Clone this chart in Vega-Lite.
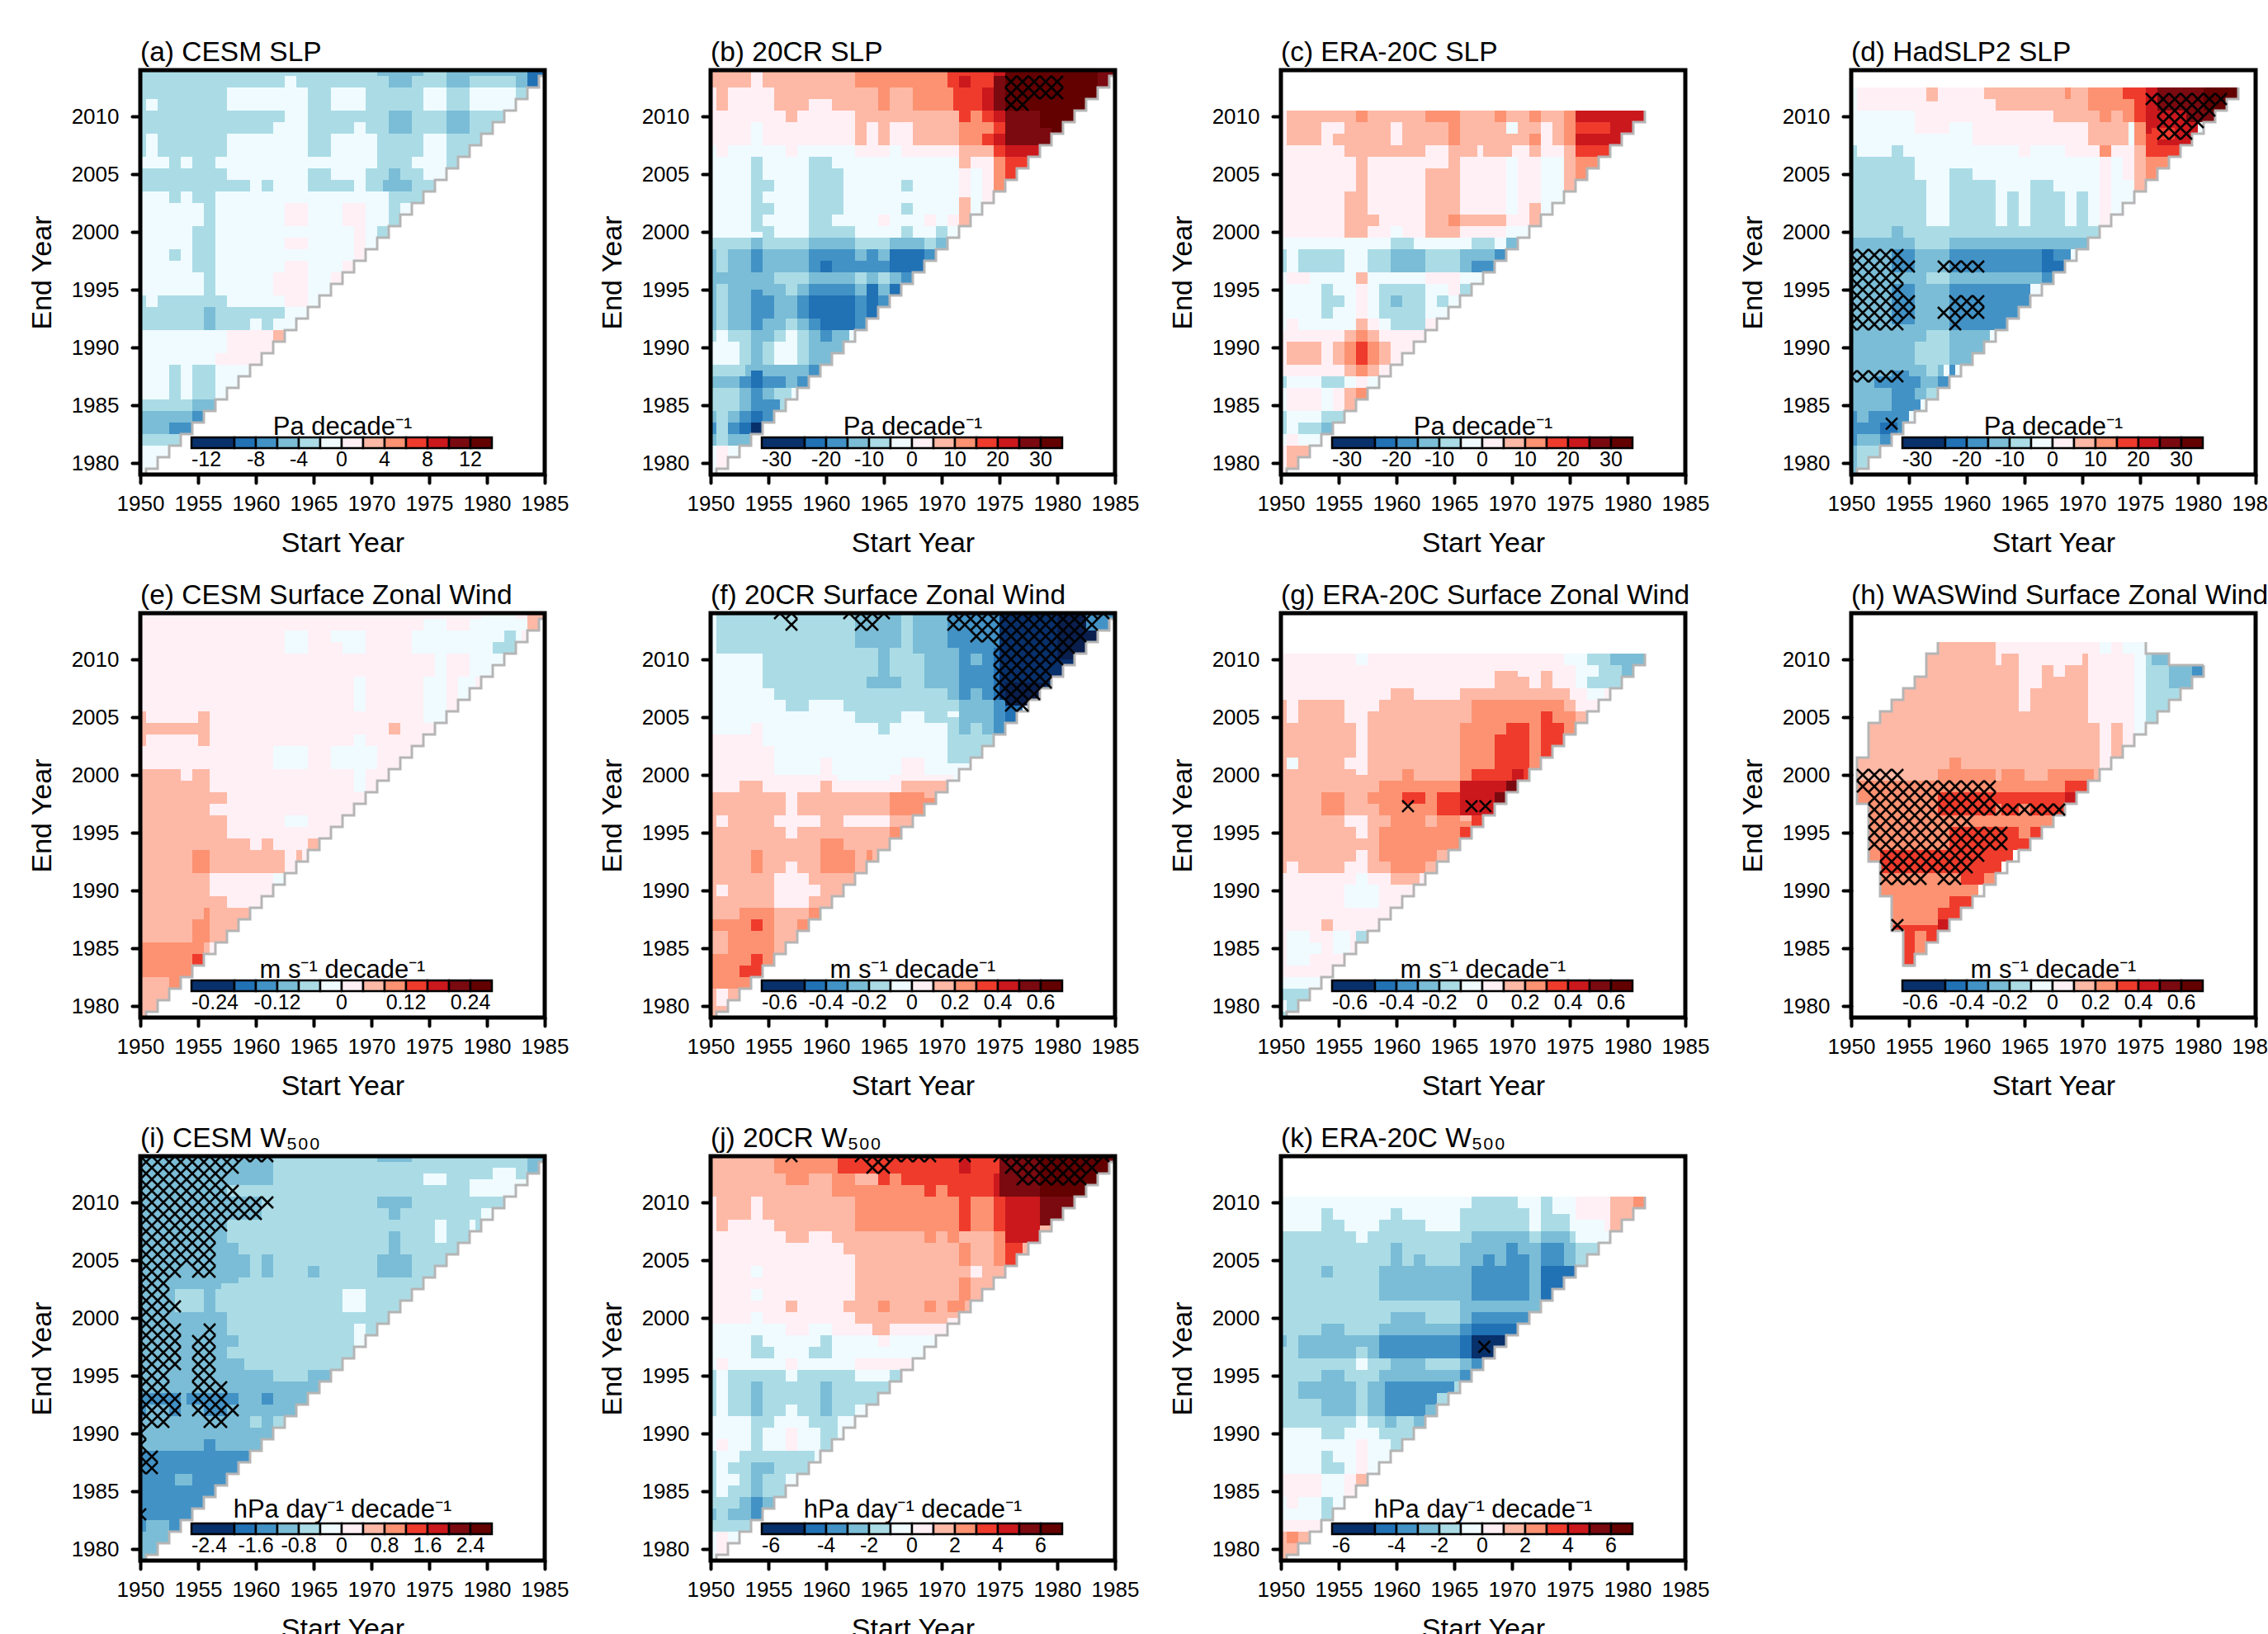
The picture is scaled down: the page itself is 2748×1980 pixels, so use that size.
{"$schema":"https://vega.github.io/schema/vega-lite/v6.json","background":"white","padding":{"left":34,"top":47,"right":0,"bottom":0},"columns":4,"spacing":{"row":168,"column":201},"bounds":"flush",
"config":{"font":"Liberation Sans","view":{"stroke":null},"axis":{"grid":false,"domain":false,"tickColor":"black","tickWidth":4,"tickSize":10,"tickCap":"round","labelFontSize":26,"labelColor":"black","titleFontSize":34,"titleFontWeight":"normal","titleColor":"black","labelOverlap":false,"labelFlush":false,"labelBound":false},"axisX":{"titlePadding":18,"labelPadding":12},"axisY":{"titlePadding":18,"labelPadding":16},"title":{"fontSize":33.5,"fontWeight":"normal","anchor":"start","frame":"group","offset":1,"color":"black"},"legend":{"orient":"none","legendX":62,"legendY":418,"direction":"horizontal","gradientLength":364,"gradientThickness":13,"gradientStrokeColor":"black","gradientStrokeWidth":2.5,"labelFontSize":25,"labelColor":"black","labelOverlap":false,"titleFontSize":31,"titleFontWeight":"normal","titleColor":"black","titleAnchor":"middle","titleOrient":"top","titlePadding":-4,"titleLimit":500,"labelOffset":4}},
"datasets":{
"stair":[{"x":1950,"y":1979},{"x":1950.5,"y":1979.5},{"x":1951.5,"y":1980.5},{"x":1952.5,"y":1981.5},{"x":1953.5,"y":1982.5},{"x":1954.5,"y":1983.5},{"x":1955.5,"y":1984.5},{"x":1956.5,"y":1985.5},{"x":1957.5,"y":1986.5},{"x":1958.5,"y":1987.5},{"x":1959.5,"y":1988.5},{"x":1960.5,"y":1989.5},{"x":1961.5,"y":1990.5},{"x":1962.5,"y":1991.5},{"x":1963.5,"y":1992.5},{"x":1964.5,"y":1993.5},{"x":1965.5,"y":1994.5},{"x":1966.5,"y":1995.5},{"x":1967.5,"y":1996.5},{"x":1968.5,"y":1997.5},{"x":1969.5,"y":1998.5},{"x":1970.5,"y":1999.5},{"x":1971.5,"y":2000.5},{"x":1972.5,"y":2001.5},{"x":1973.5,"y":2002.5},{"x":1974.5,"y":2003.5},{"x":1975.5,"y":2004.5},{"x":1976.5,"y":2005.5},{"x":1977.5,"y":2006.5},{"x":1978.5,"y":2007.5},{"x":1979.5,"y":2008.5},{"x":1980.5,"y":2009.5},{"x":1981.5,"y":2010.5},{"x":1982.5,"y":2011.5},{"x":1983.5,"y":2012.5},{"x":1984.5,"y":2013.5},{"x":1985,"y":2013.5}],
"frame":[{"x":1950,"x2":1985,"y":1979,"y2":2014}],
"outlineh":[{"i":1,"x":1957.5,"y":2011.5},{"i":2,"x":1957.5,"y":2010.5},{"i":3,"x":1956.5,"y":2010.5},{"i":4,"x":1956.5,"y":2008.5},{"i":5,"x":1955.5,"y":2008.5},{"i":6,"x":1955.5,"y":2007.5},{"i":7,"x":1954.5,"y":2007.5},{"i":8,"x":1954.5,"y":2006.5},{"i":9,"x":1953.5,"y":2006.5},{"i":10,"x":1953.5,"y":2005.5},{"i":11,"x":1952.5,"y":2005.5},{"i":12,"x":1952.5,"y":2004.5},{"i":13,"x":1951.5,"y":2004.5},{"i":14,"x":1951.5,"y":2001.5},{"i":15,"x":1950.5,"y":2001.5},{"i":16,"x":1950.5,"y":1997.5},{"i":17,"x":1951.5,"y":1997.5},{"i":18,"x":1951.5,"y":1992.5},{"i":19,"x":1952.5,"y":1992.5},{"i":20,"x":1952.5,"y":1989.5},{"i":21,"x":1953.5,"y":1989.5},{"i":22,"x":1953.5,"y":1986.5},{"i":23,"x":1954.5,"y":1986.5},{"i":24,"x":1954.5,"y":1983.5},{"i":25,"x":1955.5,"y":1983.5}],
"outlineh2":[{"i":1,"x":1980.5,"y":2009.5},{"i":2,"x":1977.5,"y":2009.5},{"i":3,"x":1977.5,"y":2010.5},{"i":4,"x":1975.5,"y":2010.5},{"i":5,"x":1975.5,"y":2011.5}],
"a":[{"x":1950,"x2":1985,"y":1979,"y2":2014,"v":-3},{"x":1950,"x2":1955.5,"y":1994.5,"y2":2003.5,"v":-1},{"x":1956.5,"x2":1971.5,"y":1994.5,"y2":2003.5,"v":-1},{"x":1952.5,"x2":1953.5,"y":2002.5,"y2":2003.5,"v":-3},{"x":1954.5,"x2":1955.5,"y":2002.5,"y2":2003.5,"v":-3},{"x":1954.5,"x2":1955.5,"y":1996.5,"y2":2000.5,"v":-3},{"x":1952.5,"x2":1953.5,"y":1997.5,"y2":1998.5,"v":-3},{"x":1957.5,"x2":1966,"y":1993.5,"y2":1994.5,"v":-1},{"x":1950.5,"x2":1951.5,"y":1993.5,"y2":1994.5,"v":-1},{"x":1972.5,"x2":1973.5,"y":2001.5,"y2":2002.5,"v":-1},{"x":1970.5,"x2":1971.5,"y":1999.5,"y2":2000.5,"v":-3},{"x":1962.5,"x2":1964.5,"y":2000.5,"y2":2002.5,"v":1},{"x":1962.5,"x2":1964.5,"y":1998.5,"y2":1999.5,"v":1},{"x":1962.5,"x2":1964.5,"y":1993.5,"y2":1997.5,"v":1},{"x":1961.5,"x2":1962.5,"y":1994.5,"y2":1996.5,"v":1},{"x":1967.5,"x2":1969.5,"y":2000.5,"y2":2002.5,"v":1},{"x":1968.5,"x2":1969.5,"y":1997.5,"y2":2000.5,"v":1},{"x":1967.5,"x2":1968.5,"y":1996.5,"y2":1997.5,"v":1},{"x":1966.5,"x2":1967.5,"y":1995.5,"y2":1996.5,"v":1},{"x":1950.5,"x2":1951.5,"y":2010.5,"y2":2011.5,"v":-1},{"x":1950.5,"x2":1951.5,"y":2006.5,"y2":2008.5,"v":-1},{"x":1950,"x2":1952.5,"y":2005.5,"y2":2006.5,"v":-1},{"x":1953.5,"x2":1954.5,"y":2005.5,"y2":2006.5,"v":-1},{"x":1956.5,"x2":1957.5,"y":2005.5,"y2":2006.5,"v":-1},{"x":1957.5,"x2":1964.5,"y":2010.5,"y2":2012.5,"v":-1},{"x":1962.5,"x2":1963.5,"y":2012.5,"y2":2013.5,"v":-1},{"x":1962.5,"x2":1964.5,"y":2009.5,"y2":2010.5,"v":-1},{"x":1961.5,"x2":1964.5,"y":2008.5,"y2":2009.5,"v":-1},{"x":1957.5,"x2":1964.5,"y":2004.5,"y2":2008.5,"v":-1},{"x":1959.5,"x2":1964.5,"y":2003.5,"y2":2004.5,"v":-1},{"x":1960.5,"x2":1961.5,"y":2003.5,"y2":2004.5,"v":-3},{"x":1964.5,"x2":1970.5,"y":2005.5,"y2":2006.5,"v":-1},{"x":1966.5,"x2":1970.5,"y":2006.5,"y2":2008.5,"v":-1},{"x":1968.5,"x2":1969.5,"y":2008.5,"y2":2009.5,"v":-1},{"x":1966.5,"x2":1968.5,"y":2004.5,"y2":2005.5,"v":-1},{"x":1968.5,"x2":1969.5,"y":2003.5,"y2":2005.5,"v":-1},{"x":1966.5,"x2":1969.5,"y":2010.5,"y2":2012.5,"v":-1},{"x":1974.5,"x2":1976.5,"y":2010.5,"y2":2012.5,"v":-1},{"x":1978.5,"x2":1982.5,"y":2010.5,"y2":2012.5,"v":-1},{"x":1974.5,"x2":1976.5,"y":2004.5,"y2":2008.5,"v":-1},{"x":1973.5,"x2":1974.5,"y":2005.5,"y2":2006.5,"v":-1},{"x":1971.5,"x2":1973.5,"y":2008.5,"y2":2010.5,"v":-5},{"x":1971,"x2":1973.5,"y":2003.5,"y2":2004.5,"v":-5},{"x":1971.5,"x2":1972.5,"y":2004.5,"y2":2005.5,"v":-5},{"x":1976.5,"x2":1978.5,"y":2008.5,"y2":2010.5,"v":-5},{"x":1976.5,"x2":1978.5,"y":2012.5,"y2":2014,"v":-5},{"x":1970.5,"x2":1974.5,"y":2013.5,"y2":2014,"v":-5},{"x":1971.5,"x2":1973.5,"y":2012.5,"y2":2013.5,"v":-5},{"x":1978.5,"x2":1983.5,"y":2013.5,"y2":2014,"v":-5},{"x":1982.5,"x2":1983.5,"y":2012.5,"y2":2013.5,"v":-5},{"x":1983.5,"x2":1985,"y":2013.5,"y2":2014,"v":-9},{"x":1983.5,"x2":1984.5,"y":2012.5,"y2":2013.5,"v":-9},{"x":1950,"x2":1963,"y":1988.5,"y2":1991.5,"v":-1},{"x":1950,"x2":1952.5,"y":1985.5,"y2":1988.5,"v":-1},{"x":1953.5,"x2":1954.5,"y":1985.5,"y2":1988.5,"v":-1},{"x":1956.5,"x2":1960,"y":1985.5,"y2":1988.5,"v":-1},{"x":1957.5,"x2":1962,"y":1989.5,"y2":1991.5,"v":1},{"x":1956.5,"x2":1961,"y":1988.5,"y2":1989.5,"v":1},{"x":1961.5,"x2":1962.5,"y":1990.5,"y2":1991.5,"v":3},{"x":1959.5,"x2":1960.5,"y":1991.5,"y2":1992.5,"v":-1},{"x":1961.5,"x2":1964,"y":1991.5,"y2":1992.5,"v":-1},{"x":1962.5,"x2":1965,"y":1992.5,"y2":1993.5,"v":-1},{"x":1955.5,"x2":1956.5,"y":1991.5,"y2":1993.5,"v":-5},{"x":1954.5,"x2":1956.5,"y":1984.5,"y2":1985.5,"v":-5},{"x":1950,"x2":1954.5,"y":1982.5,"y2":1984.5,"v":-5},{"x":1954.5,"x2":1955.5,"y":1983.5,"y2":1984.5,"v":-7},{"x":1952.5,"x2":1954.5,"y":1982.5,"y2":1983.5,"v":-7},{"x":1950,"x2":1953,"y":1979,"y2":1981.5,"v":-1}],
"b":[{"x":1950,"x2":1985,"y":1979,"y2":2014,"v":-2},{"x":1950,"x2":1985,"y":2007.5,"y2":2014,"v":2},{"x":1950.5,"x2":1951.5,"y":2006.5,"y2":2007.5,"v":2},{"x":1956.5,"x2":1957.5,"y":2006.5,"y2":2007.5,"v":2},{"x":1962.5,"x2":1965.5,"y":2006.5,"y2":2007.5,"v":2},{"x":1966.5,"x2":1971.5,"y":2006.5,"y2":2007.5,"v":2},{"x":1953.5,"x2":1954.5,"y":2007.5,"y2":2009.5,"v":-2},{"x":1950,"x2":1953.5,"y":2012.5,"y2":2014,"v":7},{"x":1950.5,"x2":1951.5,"y":2010.5,"y2":2012.5,"v":7},{"x":1954.5,"x2":1963,"y":2012.5,"y2":2014,"v":7},{"x":1955.5,"x2":1971.5,"y":2010.5,"y2":2012.5,"v":7},{"x":1958.5,"x2":1960.5,"y":2010.5,"y2":2011.5,"v":2},{"x":1956.5,"x2":1957.5,"y":2009.5,"y2":2010.5,"v":7},{"x":1962.5,"x2":1971.5,"y":2007.5,"y2":2010.5,"v":7},{"x":1963.5,"x2":1964.5,"y":2007.5,"y2":2009.5,"v":2},{"x":1965.5,"x2":1967.5,"y":2007.5,"y2":2009.5,"v":2},{"x":1962.5,"x2":1970.5,"y":2012.5,"y2":2014,"v":12},{"x":1964.5,"x2":1965.5,"y":2010.5,"y2":2012.5,"v":12},{"x":1967.5,"x2":1971,"y":2010.5,"y2":2012.5,"v":12},{"x":1971.5,"x2":1974.5,"y":2007.5,"y2":2009.5,"v":12},{"x":1971.5,"x2":1974.5,"y":2005.5,"y2":2007.5,"v":7},{"x":1972.5,"x2":1974.5,"y":2005.5,"y2":2006.5,"v":2},{"x":1971.5,"x2":1972.5,"y":2003,"y2":2005.5,"v":2},{"x":1973.5,"x2":1974.5,"y":2002.5,"y2":2005.5,"v":2},{"x":1971.5,"x2":1972.5,"y":2000.5,"y2":2003,"v":7},{"x":1970.5,"x2":1971.5,"y":2000.5,"y2":2001.5,"v":2},{"x":1964.5,"x2":1965.5,"y":2000.5,"y2":2001.5,"v":2},{"x":1968.5,"x2":1969.5,"y":2000.5,"y2":2001.5,"v":2},{"x":1974.5,"x2":1975.5,"y":2003.5,"y2":2006.5,"v":12},{"x":1974.5,"x2":1975.5,"y":2006.5,"y2":2007.5,"v":17},{"x":1975.5,"x2":1978,"y":2004.5,"y2":2006.5,"v":17},{"x":1975.5,"x2":1978.5,"y":2006.5,"y2":2007.5,"v":22},{"x":1970.5,"x2":1974.5,"y":2012.5,"y2":2014,"v":17},{"x":1971,"x2":1974.5,"y":2010.5,"y2":2012.5,"v":17},{"x":1971.5,"x2":1972.5,"y":2009.5,"y2":2010.5,"v":17},{"x":1972.5,"x2":1973.5,"y":2009.5,"y2":2010.5,"v":12},{"x":1973.5,"x2":1974.5,"y":2009.5,"y2":2010.5,"v":17},{"x":1971.5,"x2":1972.5,"y":2012.5,"y2":2013.5,"v":22},{"x":1973.5,"x2":1974.5,"y":2010.5,"y2":2012.5,"v":22},{"x":1974.5,"x2":1975.5,"y":2013.5,"y2":2014,"v":22},{"x":1974.5,"x2":1975.5,"y":2010.5,"y2":2013.5,"v":27},{"x":1974.5,"x2":1975.5,"y":2009.5,"y2":2010.5,"v":22},{"x":1974.5,"x2":1975.5,"y":2008.5,"y2":2009.5,"v":17},{"x":1974.5,"x2":1975.5,"y":2007.5,"y2":2008.5,"v":22},{"x":1973.5,"x2":1974.5,"y":2007.5,"y2":2008.5,"v":17},{"x":1975.5,"x2":1985,"y":2007.5,"y2":2014,"v":32},{"x":1975.5,"x2":1978.5,"y":2007.5,"y2":2010.5,"v":27},{"x":1983.5,"x2":1985,"y":2013.5,"y2":2014,"v":27},{"x":1983.5,"x2":1984.5,"y":2012.5,"y2":2013.5,"v":27},{"x":1978.5,"x2":1979.5,"y":2007.5,"y2":2009,"v":27},{"x":1953.5,"x2":1954.5,"y":2000,"y2":2006.5,"v":-7},{"x":1954.5,"x2":1955.5,"y":2003.5,"y2":2004.5,"v":-7},{"x":1954.5,"x2":1955.5,"y":2001.5,"y2":2002.5,"v":-7},{"x":1954.5,"x2":1955.5,"y":1999.5,"y2":2000.5,"v":-7},{"x":1958.5,"x2":1960.5,"y":1999.5,"y2":2006.5,"v":-7},{"x":1960.5,"x2":1961.5,"y":2001.5,"y2":2005.5,"v":-7},{"x":1960.5,"x2":1962.5,"y":1999.5,"y2":2000.5,"v":-7},{"x":1966.5,"x2":1967.5,"y":2003.5,"y2":2004.5,"v":-7},{"x":1966.5,"x2":1967.5,"y":2001.5,"y2":2002.5,"v":-7},{"x":1966.5,"x2":1967.5,"y":1999.5,"y2":2000.5,"v":-7},{"x":1969.5,"x2":1970.5,"y":1999.5,"y2":2000.5,"v":-7},{"x":1950,"x2":1970.5,"y":1998.5,"y2":1999.5,"v":-7},{"x":1953.5,"x2":1954.5,"y":1998.5,"y2":1999.5,"v":-12},{"x":1958.5,"x2":1962.5,"y":1998.5,"y2":1999.5,"v":-12},{"x":1965.5,"x2":1968.5,"y":1998.5,"y2":1999.5,"v":-12},{"x":1969.5,"x2":1970.5,"y":1997.5,"y2":1999.5,"v":-12},{"x":1950,"x2":1951.5,"y":1996.5,"y2":1998.5,"v":-7},{"x":1950,"x2":1950.5,"y":1996.5,"y2":1998.5,"v":-12},{"x":1951.5,"x2":1958.5,"y":1996.5,"y2":1998.5,"v":-12},{"x":1953.5,"x2":1954.5,"y":1996.5,"y2":1998.5,"v":-17},{"x":1958.5,"x2":1966,"y":1996.5,"y2":1998.5,"v":-17},{"x":1959.5,"x2":1960.5,"y":1996.5,"y2":1997.5,"v":-22},{"x":1962.5,"x2":1963.5,"y":1997.5,"y2":1998.5,"v":-12},{"x":1964.5,"x2":1965.5,"y":1997.5,"y2":1998.5,"v":-12},{"x":1965.5,"x2":1968.5,"y":1996.5,"y2":1998.5,"v":-22},{"x":1968.5,"x2":1969.5,"y":1997.5,"y2":1998.5,"v":-17},{"x":1950,"x2":1968,"y":1995.5,"y2":1996.5,"v":-12},{"x":1955.5,"x2":1958.5,"y":1995.5,"y2":1996.5,"v":-7},{"x":1962.5,"x2":1963.5,"y":1994.5,"y2":1996.5,"v":-7},{"x":1964.5,"x2":1965.5,"y":1994.5,"y2":1996.5,"v":-7},{"x":1966.5,"x2":1968,"y":1995,"y2":1996.5,"v":-17},{"x":1950,"x2":1966,"y":1991.5,"y2":1995.5,"v":-12},{"x":1950.5,"x2":1951.5,"y":1991.5,"y2":1995.5,"v":-7},{"x":1953.5,"x2":1954.5,"y":1991.5,"y2":1995,"v":-17},{"x":1954.5,"x2":1955.5,"y":1992.5,"y2":1994.5,"v":-17},{"x":1956.5,"x2":1957.5,"y":1994.5,"y2":1995.5,"v":-7},{"x":1956.5,"x2":1957.5,"y":1991.5,"y2":1992.5,"v":-7},{"x":1957.5,"x2":1958.5,"y":1992.5,"y2":1994.5,"v":-17},{"x":1958.5,"x2":1962.5,"y":1994.5,"y2":1995.5,"v":-17},{"x":1958.5,"x2":1962.5,"y":1992.5,"y2":1994.5,"v":-22},{"x":1959.5,"x2":1962.5,"y":1991.5,"y2":1992.5,"v":-22},{"x":1958.5,"x2":1959.5,"y":1991.5,"y2":1992.5,"v":-17},{"x":1962.5,"x2":1963.5,"y":1991.5,"y2":1994.5,"v":-17},{"x":1963.5,"x2":1964.5,"y":1992.5,"y2":1995.5,"v":-22},{"x":1964.5,"x2":1965.5,"y":1993.5,"y2":1994.5,"v":-17},{"x":1965.5,"x2":1966.5,"y":1994.5,"y2":1995.5,"v":-22},{"x":1950,"x2":1962,"y":1988.5,"y2":1991.5,"v":-7},{"x":1950.5,"x2":1951.5,"y":1990.5,"y2":1991.5,"v":-2},{"x":1950,"x2":1952.5,"y":1988.5,"y2":1990.5,"v":-2},{"x":1953.5,"x2":1954.5,"y":1988.5,"y2":1991.5,"v":-12},{"x":1954.5,"x2":1955.5,"y":1990.5,"y2":1991.5,"v":-12},{"x":1956.5,"x2":1957.5,"y":1990.5,"y2":1991.5,"v":-2},{"x":1955.5,"x2":1957.5,"y":1988.5,"y2":1990.5,"v":-2},{"x":1958.5,"x2":1962,"y":1988.5,"y2":1991.5,"v":-12},{"x":1959.5,"x2":1960.5,"y":1990.5,"y2":1991.5,"v":-17},{"x":1950,"x2":1959,"y":1986.5,"y2":1988.5,"v":-12},{"x":1950,"x2":1953,"y":1987.5,"y2":1988.5,"v":-7},{"x":1952.5,"x2":1956.5,"y":1986.5,"y2":1987.5,"v":-17},{"x":1953.5,"x2":1954.5,"y":1986.5,"y2":1988,"v":-22},{"x":1958.5,"x2":1959.5,"y":1987.5,"y2":1988.5,"v":-17},{"x":1957.5,"x2":1958.5,"y":1986.5,"y2":1987.5,"v":-17},{"x":1950,"x2":1957,"y":1984.5,"y2":1986.5,"v":-7},{"x":1952.5,"x2":1953.5,"y":1984.5,"y2":1986.5,"v":-12},{"x":1953.5,"x2":1954.5,"y":1984.5,"y2":1986.5,"v":-17},{"x":1954.5,"x2":1955.5,"y":1985.5,"y2":1986.5,"v":-12},{"x":1954.5,"x2":1956,"y":1984.5,"y2":1985.5,"v":-17},{"x":1950,"x2":1955,"y":1982.5,"y2":1984.5,"v":-12},{"x":1950.5,"x2":1951.5,"y":1982.5,"y2":1984.5,"v":-7},{"x":1952.5,"x2":1953.5,"y":1983.5,"y2":1984.5,"v":-17},{"x":1954.5,"x2":1955.5,"y":1983.5,"y2":1984.5,"v":-17},{"x":1953.5,"x2":1954.5,"y":1983.5,"y2":1984.5,"v":-22},{"x":1953.5,"x2":1954.5,"y":1982.5,"y2":1983.5,"v":-27},{"x":1950,"x2":1950.5,"y":1982.5,"y2":1983.5,"v":-17},{"x":1951.5,"x2":1952.5,"y":1982.5,"y2":1983.5,"v":-17},{"x":1952.5,"x2":1953.5,"y":1982.5,"y2":1983.5,"v":-22},{"x":1950,"x2":1953.5,"y":1981.5,"y2":1982.5,"v":-12},{"x":1950.5,"x2":1951.5,"y":1981.5,"y2":1982.5,"v":-7},{"x":1950.5,"x2":1951.5,"y":1979,"y2":1981.5,"v":2}],
"c":[{"x":1950,"x2":1981.5,"y":1979,"y2":2010.5,"v":-2},{"x":1950,"x2":1981.5,"y":1999.5,"y2":2010.5,"v":2},{"x":1950.5,"x2":1981.5,"y":2007.5,"y2":2010.5,"v":7},{"x":1953.5,"x2":1954.5,"y":2007.5,"y2":2009.5,"v":2},{"x":1954.5,"x2":1955.5,"y":2008.5,"y2":2009.5,"v":2},{"x":1959.5,"x2":1960.5,"y":2007.5,"y2":2009.5,"v":2},{"x":1972.5,"x2":1973.5,"y":2007.5,"y2":2009.5,"v":2},{"x":1969.5,"x2":1970.5,"y":2008.5,"y2":2009.5,"v":-2},{"x":1955.5,"x2":1958.5,"y":2006.5,"y2":2007.5,"v":7},{"x":1958.5,"x2":1962.5,"y":2006.5,"y2":2007.5,"v":7},{"x":1964.5,"x2":1967,"y":2006.5,"y2":2007.5,"v":7},{"x":1967.5,"x2":1970,"y":2006.5,"y2":2007.5,"v":7},{"x":1971.5,"x2":1972.5,"y":2006.5,"y2":2007.5,"v":7},{"x":1956.5,"x2":1957.5,"y":2009.5,"y2":2010.5,"v":12},{"x":1962.5,"x2":1965.5,"y":2009.5,"y2":2010.5,"v":12},{"x":1964.5,"x2":1965.5,"y":2007.5,"y2":2009.5,"v":12},{"x":1968.5,"x2":1969.5,"y":2009.5,"y2":2010.5,"v":12},{"x":1971.5,"x2":1972.5,"y":2009.5,"y2":2010.5,"v":12},{"x":1971.5,"x2":1972.5,"y":2007.5,"y2":2008.5,"v":12},{"x":1974.5,"x2":1975.5,"y":2007.5,"y2":2010.5,"v":12},{"x":1956.5,"x2":1957.5,"y":2003.5,"y2":2006.5,"v":7},{"x":1955.5,"x2":1957.5,"y":1999.5,"y2":2003.5,"v":7},{"x":1957.5,"x2":1958.5,"y":2000.5,"y2":2001.5,"v":7},{"x":1962.5,"x2":1965.5,"y":1999.5,"y2":2005.5,"v":7},{"x":1964.5,"x2":1965.5,"y":2005.5,"y2":2006.5,"v":7},{"x":1964.5,"x2":1965.5,"y":2000.5,"y2":2001.5,"v":12},{"x":1965.5,"x2":1969.5,"y":2000.5,"y2":2001.5,"v":7},{"x":1971.5,"x2":1972.5,"y":2000.5,"y2":2002.5,"v":7},{"x":1969.5,"x2":1970.5,"y":2001.5,"y2":2006.5,"v":-2},{"x":1972.5,"x2":1974.5,"y":2001,"y2":2006.5,"v":-2},{"x":1974.5,"x2":1975.5,"y":2003.5,"y2":2007.5,"v":7},{"x":1975.5,"x2":1978,"y":2004.5,"y2":2006.5,"v":12},{"x":1975.5,"x2":1979,"y":2006.5,"y2":2007.5,"v":17},{"x":1975.5,"x2":1981.5,"y":2007.5,"y2":2010.5,"v":22},{"x":1975.5,"x2":1978.5,"y":2008.5,"y2":2009.5,"v":17},{"x":1959.5,"x2":1960.5,"y":1999.5,"y2":2000.5,"v":-2},{"x":1969.5,"x2":1972,"y":1999.5,"y2":2000.5,"v":-2},{"x":1950,"x2":1972,"y":1998.5,"y2":1999.5,"v":-2},{"x":1959.5,"x2":1961.5,"y":1998.5,"y2":1999.5,"v":-7},{"x":1966.5,"x2":1968.5,"y":1998.5,"y2":1999.5,"v":-7},{"x":1969.5,"x2":1970.5,"y":1998.5,"y2":1999.5,"v":-12},{"x":1950,"x2":1969,"y":1996.5,"y2":1998.5,"v":-7},{"x":1950.5,"x2":1951.5,"y":1996.5,"y2":1998.5,"v":-2},{"x":1955.5,"x2":1957.5,"y":1996.5,"y2":1998.5,"v":-2},{"x":1959.5,"x2":1962.5,"y":1996.5,"y2":1998.5,"v":-12},{"x":1965.5,"x2":1968.5,"y":1996.5,"y2":1998.5,"v":-12},{"x":1968.5,"x2":1969.5,"y":1997.5,"y2":1998.5,"v":-17},{"x":1966.5,"x2":1968.5,"y":1996.5,"y2":1997.5,"v":-17},{"x":1950,"x2":1969,"y":1991.5,"y2":1996.5,"v":-2},{"x":1950.5,"x2":1952.5,"y":1995.5,"y2":1996.5,"v":2},{"x":1956.5,"x2":1957.5,"y":1995.5,"y2":1996.5,"v":7},{"x":1956.5,"x2":1957.5,"y":1992.5,"y2":1995.5,"v":2},{"x":1962.5,"x2":1965.5,"y":1995.5,"y2":1996.5,"v":2},{"x":1964.5,"x2":1965.5,"y":1994.5,"y2":1995.5,"v":2},{"x":1953.5,"x2":1954.5,"y":1992.5,"y2":1995.5,"v":-7},{"x":1954.5,"x2":1955.5,"y":1993.5,"y2":1994.5,"v":-7},{"x":1958.5,"x2":1962.5,"y":1992.5,"y2":1995.5,"v":-7},{"x":1959.5,"x2":1962.5,"y":1991.5,"y2":1992.5,"v":-7},{"x":1959.5,"x2":1960.5,"y":1993.5,"y2":1994.5,"v":-12},{"x":1963.5,"x2":1964.5,"y":1993.5,"y2":1994.5,"v":-7},{"x":1965.5,"x2":1966.5,"y":1994.5,"y2":1995.5,"v":-7},{"x":1962.5,"x2":1963.5,"y":1991.5,"y2":1992.5,"v":2},{"x":1950.5,"x2":1951.5,"y":1991.5,"y2":1992.5,"v":2},{"x":1956.5,"x2":1957.5,"y":1991.5,"y2":1992.5,"v":7},{"x":1957.5,"x2":1958.5,"y":1991.5,"y2":1992.5,"v":2},{"x":1950,"x2":1963,"y":1987.5,"y2":1991.5,"v":2},{"x":1950.5,"x2":1953.5,"y":1988.5,"y2":1990.5,"v":7},{"x":1954.5,"x2":1955.5,"y":1988.5,"y2":1990.5,"v":7},{"x":1955.5,"x2":1958.5,"y":1987.5,"y2":1991.5,"v":7},{"x":1958.5,"x2":1959.5,"y":1988.5,"y2":1990.5,"v":7},{"x":1955.5,"x2":1956.5,"y":1988.5,"y2":1990.5,"v":12},{"x":1956.5,"x2":1957.5,"y":1990.5,"y2":1991.5,"v":12},{"x":1956.5,"x2":1957.5,"y":1988.5,"y2":1990.5,"v":17},{"x":1957.5,"x2":1958.5,"y":1988.5,"y2":1990.5,"v":12},{"x":1956.5,"x2":1957.5,"y":1987.5,"y2":1988.5,"v":12},{"x":1950,"x2":1959,"y":1986.5,"y2":1987.5,"v":-2},{"x":1953.5,"x2":1955.5,"y":1986.5,"y2":1987.5,"v":-7},{"x":1950,"x2":1950.5,"y":1986.5,"y2":1987.5,"v":-7},{"x":1956.5,"x2":1957.5,"y":1986.5,"y2":1987.5,"v":2},{"x":1950,"x2":1957,"y":1984.5,"y2":1986.5,"v":2},{"x":1953.5,"x2":1954.5,"y":1984.5,"y2":1986.5,"v":-2},{"x":1950,"x2":1950.5,"y":1984.5,"y2":1986.5,"v":-2},{"x":1955.5,"x2":1956.5,"y":1984.5,"y2":1986.5,"v":7},{"x":1956.5,"x2":1957.5,"y":1985.5,"y2":1986.5,"v":12},{"x":1953.5,"x2":1955.5,"y":1983.5,"y2":1984.5,"v":-7},{"x":1951.5,"x2":1953.5,"y":1982.5,"y2":1983.5,"v":-7},{"x":1953.5,"x2":1954.5,"y":1982.5,"y2":1983.5,"v":-12},{"x":1950,"x2":1950.5,"y":1982.5,"y2":1984.5,"v":-7},{"x":1950.5,"x2":1951.5,"y":1981.5,"y2":1982.5,"v":2},{"x":1950.5,"x2":1953,"y":1979,"y2":1981.5,"v":7},{"x":1950,"x2":1950.5,"y":1979,"y2":1981.5,"v":2}],
"d":[{"x":1950,"x2":1983.5,"y":1979,"y2":2012.5,"v":-2},{"x":1950.5,"x2":1971.5,"y":2010.5,"y2":2012.5,"v":2},{"x":1955.5,"x2":1971.5,"y":2008.5,"y2":2010.5,"v":2},{"x":1958.5,"x2":1960.5,"y":2008.5,"y2":2009.5,"v":-2},{"x":1960.5,"x2":1971.5,"y":2007.5,"y2":2008.5,"v":2},{"x":1964.5,"x2":1965.5,"y":2006.5,"y2":2007.5,"v":2},{"x":1968.5,"x2":1971.5,"y":2006.5,"y2":2007.5,"v":2},{"x":1961.5,"x2":1970.5,"y":2011.5,"y2":2012.5,"v":7},{"x":1962.5,"x2":1970.5,"y":2010.5,"y2":2011.5,"v":7},{"x":1967.5,"x2":1970.5,"y":2009.5,"y2":2010.5,"v":7},{"x":1970.5,"x2":1974,"y":2007.5,"y2":2009.5,"v":7},{"x":1956.5,"x2":1957.5,"y":2011.3,"y2":2012.5,"v":7},{"x":1968.5,"x2":1969,"y":2011.5,"y2":2012.5,"v":12},{"x":1970.5,"x2":1973.5,"y":2010.5,"y2":2012.5,"v":12},{"x":1971.5,"x2":1972.5,"y":2009.5,"y2":2010.5,"v":12},{"x":1972.5,"x2":1973.5,"y":2009.5,"y2":2010.5,"v":7},{"x":1970.5,"x2":1971.5,"y":2009.5,"y2":2010.5,"v":7},{"x":1973.5,"x2":1974.5,"y":2009.5,"y2":2011.5,"v":12},{"x":1971.5,"x2":1972.5,"y":2006.5,"y2":2007.5,"v":12},{"x":1974.5,"x2":1975.5,"y":2007.5,"y2":2009.5,"v":12},{"x":1974.5,"x2":1975.5,"y":2003.5,"y2":2007.5,"v":7},{"x":1975.5,"x2":1978,"y":2005.5,"y2":2006.5,"v":12},{"x":1975.5,"x2":1977,"y":2004.5,"y2":2005.5,"v":12},{"x":1973.5,"x2":1975.5,"y":2011.5,"y2":2012.5,"v":17},{"x":1974.5,"x2":1975.5,"y":2009.5,"y2":2011.5,"v":17},{"x":1975.5,"x2":1979,"y":2006.5,"y2":2008.5,"v":17},{"x":1975.5,"x2":1976.5,"y":2008.5,"y2":2012.5,"v":22},{"x":1976.5,"x2":1980,"y":2007.5,"y2":2010.5,"v":22},{"x":1976,"x2":1978,"y":2008,"y2":2009,"v":17},{"x":1976.5,"x2":1980.5,"y":2010.5,"y2":2012.5,"v":27},{"x":1979,"x2":1982,"y":2009.5,"y2":2010.5,"v":27},{"x":1980.5,"x2":1983.5,"y":2010.5,"y2":2012.5,"v":32},{"x":1971.5,"x2":1972.5,"y":2000.5,"y2":2006.5,"v":2},{"x":1973.5,"x2":1974.5,"y":2004.5,"y2":2007.5,"v":2},{"x":1972.5,"x2":1973.5,"y":2006.5,"y2":2007.5,"v":2},{"x":1950,"x2":1955.5,"y":1999,"y2":2006.5,"v":-7},{"x":1950,"x2":1950.5,"y":2006.5,"y2":2007.5,"v":-7},{"x":1953.5,"x2":1954.5,"y":2006.5,"y2":2007.5,"v":-7},{"x":1955.5,"x2":1956.5,"y":1999,"y2":2004.5,"v":-7},{"x":1958.5,"x2":1960.5,"y":2000.5,"y2":2005.5,"v":-7},{"x":1960.5,"x2":1962.5,"y":2000.5,"y2":2004.5,"v":-7},{"x":1963.5,"x2":1964.5,"y":2000.5,"y2":2003.5,"v":-7},{"x":1965.5,"x2":1967.5,"y":2000.5,"y2":2004.5,"v":-7},{"x":1967.5,"x2":1968.5,"y":2000.5,"y2":2003.5,"v":-7},{"x":1969.5,"x2":1970.5,"y":2000.5,"y2":2003.5,"v":-7},{"x":1950,"x2":1971.5,"y":1999.5,"y2":2000.5,"v":-7},{"x":1953.5,"x2":1954.5,"y":1999.5,"y2":2000.5,"v":-12},{"x":1950,"x2":1970.5,"y":1998.5,"y2":1999.5,"v":-12},{"x":1955.5,"x2":1958.5,"y":1998.5,"y2":1999.5,"v":-7},{"x":1950,"x2":1968,"y":1995.5,"y2":1998.5,"v":-12},{"x":1958.5,"x2":1966.5,"y":1995.5,"y2":1998.5,"v":-17},{"x":1966.5,"x2":1969,"y":1997.5,"y2":1998.5,"v":-17},{"x":1966.5,"x2":1967.5,"y":1996.5,"y2":1998.5,"v":-22},{"x":1967.5,"x2":1968.5,"y":1996.5,"y2":1997.5,"v":-22},{"x":1966.5,"x2":1967.5,"y":1995.5,"y2":1996.5,"v":-17},{"x":1956.5,"x2":1958.5,"y":1995.5,"y2":1996.5,"v":-7},{"x":1958.5,"x2":1966.5,"y":1995.5,"y2":1996.5,"v":-12},{"x":1953.5,"x2":1955.5,"y":1996.5,"y2":1998.5,"v":-17},{"x":1950,"x2":1958.5,"y":1991.5,"y2":1995.5,"v":-12},{"x":1958.5,"x2":1965.5,"y":1991.5,"y2":1995.5,"v":-17},{"x":1953.5,"x2":1955.5,"y":1992,"y2":1995.5,"v":-17},{"x":1950,"x2":1962,"y":1988.5,"y2":1991.5,"v":-12},{"x":1956.5,"x2":1958.5,"y":1990.5,"y2":1991.5,"v":-7},{"x":1955.5,"x2":1958.5,"y":1988.5,"y2":1990.5,"v":-7},{"x":1950,"x2":1958,"y":1986.5,"y2":1988.5,"v":-12},{"x":1956.5,"x2":1957.5,"y":1987.5,"y2":1988.5,"v":-7},{"x":1958.5,"x2":1959,"y":1987.5,"y2":1988.5,"v":-17},{"x":1952,"x2":1956,"y":1986.5,"y2":1987.5,"v":-17},{"x":1953.5,"x2":1955,"y":1987.5,"y2":1988,"v":-17},{"x":1957.5,"x2":1958.5,"y":1986.5,"y2":1987.5,"v":-17},{"x":1950,"x2":1953.5,"y":1984.5,"y2":1986.5,"v":-12},{"x":1953.5,"x2":1956,"y":1984.5,"y2":1986.5,"v":-17},{"x":1955.5,"x2":1956.5,"y":1985.5,"y2":1986.5,"v":-12},{"x":1956.5,"x2":1957.5,"y":1985.5,"y2":1986.5,"v":-7},{"x":1950,"x2":1955,"y":1982.5,"y2":1984.5,"v":-17},{"x":1950.5,"x2":1951.5,"y":1983.5,"y2":1984.5,"v":-12},{"x":1952.5,"x2":1954,"y":1982.5,"y2":1983.5,"v":-22},{"x":1950.5,"x2":1953,"y":1981.5,"y2":1982.5,"v":-12},{"x":1950,"x2":1950.5,"y":1981.5,"y2":1982.5,"v":-17},{"x":1952.5,"x2":1953.5,"y":1981.5,"y2":1982.5,"v":-17},{"x":1950.5,"x2":1953,"y":1979,"y2":1981.5,"v":-7},{"x":1950,"x2":1950.5,"y":1979,"y2":1981.5,"v":-12}],
"e":[{"x":1950,"x2":1985,"y":1979,"y2":2014,"v":0.02},{"x":1962.5,"x2":1964.5,"y":2010.5,"y2":2012.5,"v":-0.02},{"x":1966.5,"x2":1969.5,"y":2011.5,"y2":2012.5,"v":-0.02},{"x":1967.5,"x2":1969.5,"y":2010.5,"y2":2011.5,"v":-0.02},{"x":1973.5,"x2":1976.5,"y":2010.5,"y2":2012.5,"v":-0.02},{"x":1974.5,"x2":1976.5,"y":2012.5,"y2":2013.5,"v":-0.02},{"x":1975.5,"x2":1976.5,"y":2008.5,"y2":2010.5,"v":-0.02},{"x":1974.5,"x2":1976.5,"y":2004.5,"y2":2008.5,"v":-0.02},{"x":1976.5,"x2":1983,"y":2010.5,"y2":2012.5,"v":-0.02},{"x":1978.5,"x2":1984,"y":2012.5,"y2":2013.5,"v":-0.02},{"x":1979.5,"x2":1982.5,"y":2013.5,"y2":2014,"v":-0.02},{"x":1978.5,"x2":1982,"y":2008.5,"y2":2010.5,"v":-0.02},{"x":1977.5,"x2":1979,"y":2006.5,"y2":2008.5,"v":-0.02},{"x":1968.5,"x2":1969.5,"y":2005.5,"y2":2008.5,"v":-0.02},{"x":1981.5,"x2":1982.5,"y":2010.5,"y2":2012.5,"v":-0.06},{"x":1980.5,"x2":1981.5,"y":2010.5,"y2":2011.5,"v":-0.06},{"x":1950,"x2":1950.5,"y":2002.5,"y2":2005.5,"v":0.06},{"x":1955,"x2":1956,"y":2002.5,"y2":2005.5,"v":0.06},{"x":1950,"x2":1955.5,"y":2003.5,"y2":2004.5,"v":0.06},{"x":1971.5,"x2":1972.5,"y":2003.5,"y2":2004.5,"v":0.06},{"x":1961.5,"x2":1964.5,"y":2000.5,"y2":2002.5,"v":-0.02},{"x":1966.5,"x2":1970.5,"y":2000.5,"y2":2002.5,"v":-0.02},{"x":1968.5,"x2":1969.5,"y":1998.5,"y2":2003.5,"v":-0.02},{"x":1962.5,"x2":1964.5,"y":1995.5,"y2":1996.5,"v":-0.02},{"x":1950,"x2":1956,"y":1979,"y2":2000.5,"v":0.06},{"x":1953.5,"x2":1954.5,"y":1999.5,"y2":2000.5,"v":0.02},{"x":1956,"x2":1957.5,"y":1997.5,"y2":1998.5,"v":0.06},{"x":1956,"x2":1957.5,"y":1994.5,"y2":1996.5,"v":0.06},{"x":1956,"x2":1959.5,"y":1993.5,"y2":1994.5,"v":0.06},{"x":1960.5,"x2":1961.5,"y":1993.5,"y2":1994.5,"v":0.06},{"x":1956,"x2":1962.5,"y":1991.5,"y2":1993.5,"v":0.06},{"x":1963.5,"x2":1964,"y":1992.5,"y2":1993.5,"v":0.06},{"x":1964.5,"x2":1965.5,"y":1993.5,"y2":1994.5,"v":0.06},{"x":1961.5,"x2":1962.5,"y":1990.5,"y2":1991.5,"v":-0.02},{"x":1956,"x2":1957.5,"y":1988.5,"y2":1989.5,"v":0.06},{"x":1956,"x2":1959.5,"y":1987.5,"y2":1988.5,"v":0.06},{"x":1956,"x2":1958.5,"y":1986.5,"y2":1987.5,"v":0.06},{"x":1956,"x2":1957.5,"y":1985.5,"y2":1986.5,"v":0.06},{"x":1954.5,"x2":1956,"y":1991.5,"y2":1993.5,"v":0.1},{"x":1954.5,"x2":1956,"y":1985.5,"y2":1987.5,"v":0.1},{"x":1955.5,"x2":1956,"y":1987.5,"y2":1988.5,"v":0.1},{"x":1950,"x2":1954.5,"y":1982.5,"y2":1985.5,"v":0.1},{"x":1954.5,"x2":1955.5,"y":1984.5,"y2":1985.5,"v":0.1},{"x":1954.5,"x2":1955.5,"y":1983.5,"y2":1984.5,"v":0.14},{"x":1952.5,"x2":1953.5,"y":1981.5,"y2":1982.5,"v":0.1},{"x":1983.5,"x2":1985,"y":2012.5,"y2":2014,"v":0.06}],
"f":[{"x":1950,"x2":1985,"y":1979,"y2":2014,"v":-0.05},{"x":1950,"x2":1971,"y":1979,"y2":1998.5,"v":0.15},{"x":1950,"x2":1953.5,"y":1998.5,"y2":2003.5,"v":0.05},{"x":1953.5,"x2":1954.5,"y":1998.5,"y2":2004.5,"v":0.05},{"x":1954.5,"x2":1955.5,"y":1998.5,"y2":2002.5,"v":0.05},{"x":1955.5,"x2":1971,"y":1998.5,"y2":2000,"v":0.05},{"x":1961,"x2":1965.5,"y":1999.5,"y2":2000,"v":-0.05},{"x":1959.5,"x2":1960.5,"y":2000,"y2":2001.5,"v":0.05},{"x":1966.5,"x2":1968.5,"y":2000,"y2":2001.5,"v":0.05},{"x":1950.5,"x2":1985,"y":2010.5,"y2":2014,"v":-0.15},{"x":1954.5,"x2":1971.5,"y":2007.5,"y2":2010.5,"v":-0.15},{"x":1955.5,"x2":1971.5,"y":2006.5,"y2":2007.5,"v":-0.15},{"x":1956.5,"x2":1958.5,"y":2005.5,"y2":2006.5,"v":-0.15},{"x":1961.5,"x2":1971.5,"y":2005.5,"y2":2006.5,"v":-0.15},{"x":1962.5,"x2":1966.5,"y":2004.5,"y2":2005.5,"v":-0.15},{"x":1968.5,"x2":1970.5,"y":2004.5,"y2":2005.5,"v":-0.15},{"x":1964.5,"x2":1965.5,"y":2003.5,"y2":2004.5,"v":-0.15},{"x":1970.5,"x2":1974.5,"y":2001,"y2":2005,"v":-0.15},{"x":1952.5,"x2":1954.5,"y":1998.5,"y2":1999.5,"v":0.15},{"x":1959.5,"x2":1960.5,"y":1998.5,"y2":1999.5,"v":0.15},{"x":1966.5,"x2":1971,"y":1998.5,"y2":1999.5,"v":0.15},{"x":1956.5,"x2":1957.5,"y":1996.5,"y2":1998.5,"v":0.05},{"x":1955.5,"x2":1959.5,"y":1995.5,"y2":1996.5,"v":0.05},{"x":1956.5,"x2":1957.5,"y":1994.5,"y2":1995.5,"v":0.05},{"x":1961.5,"x2":1965.5,"y":1995.5,"y2":1996.5,"v":0.05},{"x":1950.5,"x2":1951.5,"y":1995.5,"y2":1996.5,"v":0.05},{"x":1965.5,"x2":1968.5,"y":1996.5,"y2":1998.5,"v":0.25},{"x":1968.5,"x2":1969.5,"y":1997.5,"y2":1998,"v":0.25},{"x":1965.5,"x2":1966.5,"y":1994.5,"y2":1995.5,"v":0.25},{"x":1959.5,"x2":1961.5,"y":1991.5,"y2":1994.5,"v":0.25},{"x":1961.5,"x2":1962.5,"y":1991.5,"y2":1993.5,"v":0.25},{"x":1963.5,"x2":1964,"y":1992.5,"y2":1993.5,"v":0.25},{"x":1953.5,"x2":1954.5,"y":1991.5,"y2":1993.5,"v":0.25},{"x":1956.5,"x2":1957.5,"y":1991.5,"y2":1992.5,"v":0.05},{"x":1955.5,"x2":1958.5,"y":1988.5,"y2":1991.5,"v":0.05},{"x":1958.5,"x2":1959.5,"y":1989.5,"y2":1990.5,"v":0.05},{"x":1950.5,"x2":1951.5,"y":1989.5,"y2":1990.5,"v":0.05},{"x":1952.5,"x2":1955.5,"y":1987.5,"y2":1988.5,"v":0.25},{"x":1958.5,"x2":1959.5,"y":1987.5,"y2":1988.5,"v":0.25},{"x":1950,"x2":1955.5,"y":1986.5,"y2":1987.5,"v":0.25},{"x":1953.5,"x2":1954.5,"y":1986.5,"y2":1987.5,"v":0.35},{"x":1957.5,"x2":1958.5,"y":1986.5,"y2":1987.5,"v":0.25},{"x":1951.5,"x2":1955.5,"y":1984.5,"y2":1986.5,"v":0.25},{"x":1950,"x2":1955.5,"y":1982.5,"y2":1984.5,"v":0.25},{"x":1953.5,"x2":1954.5,"y":1983.5,"y2":1984.5,"v":0.35},{"x":1952.5,"x2":1954.5,"y":1982.5,"y2":1983.5,"v":0.35},{"x":1950,"x2":1953.5,"y":1981.5,"y2":1982.5,"v":0.25},{"x":1950.5,"x2":1951.5,"y":1980,"y2":1981.5,"v":0.05},{"x":1962.5,"x2":1966.5,"y":2011,"y2":2014,"v":-0.25},{"x":1964.5,"x2":1965.5,"y":2008.5,"y2":2011,"v":-0.25},{"x":1963.5,"x2":1966.5,"y":2007.5,"y2":2008.5,"v":-0.25},{"x":1966.5,"x2":1967.5,"y":2013.5,"y2":2014,"v":-0.15},{"x":1967.5,"x2":1971.5,"y":2010.5,"y2":2014,"v":-0.25},{"x":1968.5,"x2":1971.5,"y":2007.5,"y2":2010.5,"v":-0.25},{"x":1970.5,"x2":1971.5,"y":2006.5,"y2":2007.5,"v":-0.25},{"x":1971.5,"x2":1974.5,"y":2006.5,"y2":2011,"v":-0.35},{"x":1971.5,"x2":1974.5,"y":2003.5,"y2":2006.5,"v":-0.25},{"x":1972.5,"x2":1973.5,"y":2003.5,"y2":2004.5,"v":-0.15},{"x":1972.5,"x2":1973.5,"y":2006.5,"y2":2007.5,"v":-0.25},{"x":1972.5,"x2":1973.5,"y":2009.5,"y2":2010.5,"v":-0.25},{"x":1970.5,"x2":1975,"y":2011,"y2":2014,"v":-0.35},{"x":1974.5,"x2":1975.5,"y":2006.5,"y2":2011,"v":-0.45},{"x":1974.5,"x2":1975.5,"y":2003.5,"y2":2006.5,"v":-0.35},{"x":1975.5,"x2":1977,"y":2004.5,"y2":2006.5,"v":-0.45},{"x":1975,"x2":1985,"y":2006.5,"y2":2014,"v":-0.55},{"x":1975.5,"x2":1979,"y":2006,"y2":2008,"v":-0.65},{"x":1980,"x2":1985,"y":2010,"y2":2014,"v":-0.65},{"x":1982.5,"x2":1984.5,"y":2012.5,"y2":2014,"v":-0.35},{"x":1984.5,"x2":1985,"y":2013.5,"y2":2014,"v":-0.35}],
"g":[{"x":1950,"x2":1981.5,"y":1979,"y2":2010.5,"v":0.05},{"x":1956.5,"x2":1957.5,"y":2009.5,"y2":2010.5,"v":-0.05},{"x":1974.5,"x2":1976.5,"y":2009.5,"y2":2010.5,"v":-0.05},{"x":1975.5,"x2":1976.5,"y":2007.5,"y2":2009.5,"v":-0.05},{"x":1976.5,"x2":1978.5,"y":2009.5,"y2":2010.5,"v":-0.15},{"x":1978.5,"x2":1981.5,"y":2009.5,"y2":2010.5,"v":-0.25},{"x":1976.5,"x2":1979.5,"y":2007.5,"y2":2008.5,"v":-0.15},{"x":1976.5,"x2":1977.5,"y":2008.5,"y2":2009.5,"v":-0.05},{"x":1977.5,"x2":1980,"y":2008.5,"y2":2009.5,"v":-0.15},{"x":1979.5,"x2":1980.5,"y":2008.5,"y2":2009.5,"v":-0.25},{"x":1976.5,"x2":1978,"y":2006.5,"y2":2007.5,"v":-0.05},{"x":1968.5,"x2":1970.5,"y":2007.5,"y2":2009,"v":0.15},{"x":1970.5,"x2":1971.5,"y":2007.5,"y2":2008.5,"v":0.15},{"x":1972.5,"x2":1973.5,"y":2007.5,"y2":2009,"v":0.15},{"x":1965.5,"x2":1975,"y":2006.5,"y2":2007.5,"v":0.15},{"x":1959.5,"x2":1961.5,"y":2006.5,"y2":2007.5,"v":0.15},{"x":1950,"x2":1975,"y":1991.5,"y2":2006.5,"v":0.15},{"x":1950.5,"x2":1951.5,"y":2004.5,"y2":2006.5,"v":0.05},{"x":1955.5,"x2":1956.5,"y":2004.5,"y2":2006.5,"v":0.05},{"x":1956.5,"x2":1957.5,"y":2000,"y2":2006.5,"v":0.05},{"x":1957.5,"x2":1958.5,"y":2005.5,"y2":2006.5,"v":0.05},{"x":1955.5,"x2":1956.5,"y":2000.5,"y2":2001.5,"v":0.05},{"x":1950.5,"x2":1951.5,"y":2000.5,"y2":2001.5,"v":-0.05},{"x":1955.5,"x2":1957.5,"y":1995.5,"y2":1996.5,"v":0.05},{"x":1956.5,"x2":1957.5,"y":1994.5,"y2":1995.5,"v":0.05},{"x":1956.5,"x2":1957.5,"y":1991.5,"y2":1993.5,"v":0.05},{"x":1955.5,"x2":1956.5,"y":1991.5,"y2":1992.5,"v":0.05},{"x":1950.5,"x2":1951.5,"y":1991.5,"y2":1992.5,"v":0.05},{"x":1974.5,"x2":1975.5,"y":2005.5,"y2":2006.5,"v":0.15},{"x":1975.5,"x2":1976.5,"y":2004.5,"y2":2005.5,"v":0.15},{"x":1966.5,"x2":1974.5,"y":2005.5,"y2":2006.5,"v":0.25},{"x":1966.5,"x2":1975.5,"y":2004.5,"y2":2005.5,"v":0.25},{"x":1965.5,"x2":1975.5,"y":1999.5,"y2":2004.5,"v":0.25},{"x":1969.5,"x2":1971.5,"y":2003.5,"y2":2004.5,"v":0.35},{"x":1968.5,"x2":1971.5,"y":2000.5,"y2":2003.5,"v":0.35},{"x":1966.5,"x2":1971.5,"y":1999.5,"y2":2000.5,"v":0.35},{"x":1972.5,"x2":1973.5,"y":2004.5,"y2":2005.5,"v":0.35},{"x":1972.5,"x2":1974.5,"y":2002.5,"y2":2004.5,"v":0.35},{"x":1972.5,"x2":1973.5,"y":2001.5,"y2":2002.5,"v":0.35},{"x":1958.5,"x2":1965.5,"y":1998.5,"y2":1999.5,"v":0.25},{"x":1960.5,"x2":1961.5,"y":1999.5,"y2":2000.5,"v":0.25},{"x":1953.5,"x2":1955.5,"y":1996.5,"y2":1998.5,"v":0.25},{"x":1957.5,"x2":1958.5,"y":1997.5,"y2":1998.5,"v":0.25},{"x":1958.5,"x2":1968.5,"y":1996.5,"y2":1998.5,"v":0.25},{"x":1958.5,"x2":1965.5,"y":1993.5,"y2":1996.5,"v":0.25},{"x":1958.5,"x2":1963.5,"y":1992.5,"y2":1993.5,"v":0.25},{"x":1959.5,"x2":1962.5,"y":1991.5,"y2":1992.5,"v":0.25},{"x":1959.5,"x2":1962,"y":1990.5,"y2":1991.5,"v":0.15},{"x":1962.5,"x2":1963.5,"y":1995.5,"y2":1996.5,"v":0.15},{"x":1958.5,"x2":1959.5,"y":1995.5,"y2":1996.5,"v":0.15},{"x":1962.5,"x2":1963.5,"y":1991.5,"y2":1992.5,"v":0.15},{"x":1960.5,"x2":1962.5,"y":1997.5,"y2":1998.5,"v":0.35},{"x":1963.5,"x2":1965.5,"y":1996.5,"y2":1998.5,"v":0.35},{"x":1965.5,"x2":1968.5,"y":1996.5,"y2":1999.5,"v":0.45},{"x":1968.5,"x2":1970.5,"y":1998.5,"y2":1999.5,"v":0.45},{"x":1970,"x2":1971,"y":1999.5,"y2":2000.5,"v":0.45},{"x":1969.5,"x2":1970.5,"y":1998.5,"y2":1999.5,"v":0.55},{"x":1968.5,"x2":1969.5,"y":1997.5,"y2":1998.5,"v":0.55},{"x":1965.5,"x2":1967,"y":1994.5,"y2":1996,"v":0.25},{"x":1966.5,"x2":1967.5,"y":1995.5,"y2":1996.5,"v":0.35},{"x":1965.5,"x2":1966.5,"y":1994.5,"y2":1995.5,"v":0.35},{"x":1955.5,"x2":1958.5,"y":1988.5,"y2":1990.5,"v":-0.05},{"x":1956.5,"x2":1957.5,"y":1990.5,"y2":1991.5,"v":-0.05},{"x":1953.5,"x2":1954.5,"y":1986.5,"y2":1987.5,"v":0.15},{"x":1950.5,"x2":1952.5,"y":1983.5,"y2":1986.5,"v":-0.05},{"x":1952.5,"x2":1953.5,"y":1984.5,"y2":1985.5,"v":-0.05},{"x":1954.5,"x2":1956,"y":1984.5,"y2":1986.5,"v":-0.05},{"x":1956.5,"x2":1957.5,"y":1985.5,"y2":1986.5,"v":-0.15},{"x":1950,"x2":1953.5,"y":1981.5,"y2":1982.5,"v":-0.05},{"x":1950,"x2":1952.5,"y":1979,"y2":1981.5,"v":-0.15},{"x":1950,"x2":1950.5,"y":1979.5,"y2":1980.5,"v":-0.05}],
"h":[{"x":1957.5,"x2":1975.5,"y":2010.5,"y2":2011.5,"v":0.15},{"x":1956.5,"x2":1975.5,"y":2008.5,"y2":2010.5,"v":0.15},{"x":1955.5,"x2":1975.5,"y":2007.5,"y2":2008.5,"v":0.15},{"x":1954.5,"x2":1975.5,"y":2006.5,"y2":2007.5,"v":0.15},{"x":1953.5,"x2":1975.5,"y":2005.5,"y2":2006.5,"v":0.15},{"x":1952.5,"x2":1975.5,"y":2004.5,"y2":2005.5,"v":0.15},{"x":1951.5,"x2":1975.5,"y":2001.5,"y2":2004.5,"v":0.15},{"x":1950.5,"x2":1972,"y":1997.5,"y2":2001.5,"v":0.15},{"x":1962.5,"x2":1975.5,"y":2010.5,"y2":2011.5,"v":0.05},{"x":1962.5,"x2":1963,"y":2009.5,"y2":2010.5,"v":0.05},{"x":1964.5,"x2":1965.5,"y":2005.5,"y2":2010.5,"v":0.05},{"x":1965.5,"x2":1966.5,"y":2007.5,"y2":2010.5,"v":0.05},{"x":1966.5,"x2":1967.5,"y":2009.5,"y2":2010.5,"v":0.05},{"x":1967.5,"x2":1968.5,"y":2008.5,"y2":2010.5,"v":0.05},{"x":1968.5,"x2":1970,"y":2009.5,"y2":2010.5,"v":0.05},{"x":1970.5,"x2":1975,"y":2004.5,"y2":2010.5,"v":0.05},{"x":1971.5,"x2":1972.5,"y":2000.5,"y2":2004.5,"v":0.05},{"x":1973.5,"x2":1974.5,"y":2002.5,"y2":2004.5,"v":0.05},{"x":1974.5,"x2":1975.5,"y":2003.5,"y2":2011.5,"v":-0.05},{"x":1971.5,"x2":1972.5,"y":2010.5,"y2":2011.5,"v":-0.05},{"x":1973.5,"x2":1975,"y":2010.5,"y2":2011.5,"v":-0.05},{"x":1975.5,"x2":1977.5,"y":2004.5,"y2":2010.5,"v":-0.15},{"x":1977.5,"x2":1979.5,"y":2006,"y2":2009.5,"v":-0.15},{"x":1976,"x2":1977.5,"y":2009.5,"y2":2010.5,"v":-0.25},{"x":1977.5,"x2":1979.5,"y":2007.5,"y2":2009.5,"v":-0.25},{"x":1979.5,"x2":1980.5,"y":2008.5,"y2":2009.5,"v":-0.35},{"x":1958.5,"x2":1959.5,"y":2000.5,"y2":2001.5,"v":0.25},{"x":1957.5,"x2":1971,"y":1999.5,"y2":2000.5,"v":0.25},{"x":1962.5,"x2":1963,"y":1999.5,"y2":2000.5,"v":0.15},{"x":1965,"x2":1967,"y":1999.5,"y2":2000.5,"v":0.15},{"x":1950.5,"x2":1970.5,"y":1998.5,"y2":1999.5,"v":0.25},{"x":1968.5,"x2":1970.5,"y":1998.5,"y2":1999.5,"v":0.35},{"x":1950.5,"x2":1968.5,"y":1997.5,"y2":1998.5,"v":0.25},{"x":1951.5,"x2":1968,"y":1993.5,"y2":1997.5,"v":0.25},{"x":1957.5,"x2":1968.5,"y":1996.5,"y2":1998.5,"v":0.35},{"x":1962.5,"x2":1963,"y":1996.5,"y2":1997.5,"v":0.25},{"x":1964.5,"x2":1965.5,"y":1996.5,"y2":1997.5,"v":0.25},{"x":1968.5,"x2":1969.5,"y":1997.5,"y2":1998.5,"v":0.45},{"x":1958.5,"x2":1964.5,"y":1993.5,"y2":1995.5,"v":0.35},{"x":1964.5,"x2":1965.5,"y":1993.5,"y2":1994.5,"v":0.35},{"x":1965.5,"x2":1966.5,"y":1994.5,"y2":1995.5,"v":0.35},{"x":1951.5,"x2":1952.5,"y":1992.5,"y2":1993.5,"v":0.25},{"x":1952.5,"x2":1964,"y":1992.5,"y2":1993.5,"v":0.35},{"x":1952.5,"x2":1963,"y":1991.5,"y2":1992.5,"v":0.35},{"x":1952.5,"x2":1961,"y":1990.5,"y2":1991.5,"v":0.25},{"x":1959.5,"x2":1961.5,"y":1990.5,"y2":1991.5,"v":0.35},{"x":1961.5,"x2":1962.5,"y":1990.5,"y2":1991.5,"v":0.25},{"x":1952.5,"x2":1961,"y":1989.5,"y2":1990.5,"v":0.25},{"x":1953.5,"x2":1958.5,"y":1988.5,"y2":1989.5,"v":0.25},{"x":1958.5,"x2":1960.5,"y":1988.5,"y2":1989.5,"v":0.35},{"x":1953.5,"x2":1957.5,"y":1987,"y2":1988.5,"v":0.25},{"x":1957.5,"x2":1959.5,"y":1987.5,"y2":1988.5,"v":0.35},{"x":1953.5,"x2":1957.5,"y":1986.5,"y2":1987,"v":0.35},{"x":1957.5,"x2":1958.5,"y":1986.5,"y2":1987.5,"v":0.45},{"x":1954.5,"x2":1957.5,"y":1985.5,"y2":1986.5,"v":0.35},{"x":1955.5,"x2":1956.5,"y":1985.5,"y2":1986.5,"v":0.25},{"x":1954.5,"x2":1955.5,"y":1983.5,"y2":1985.5,"v":0.35},{"x":1955.5,"x2":1956.5,"y":1984.5,"y2":1985.5,"v":0.25}],
"i":[{"x":1950,"x2":1985,"y":1979,"y2":2014,"v":-0.6},{"x":1950,"x2":1957.5,"y":2006.5,"y2":2014,"v":-1},{"x":1957.5,"x2":1961.5,"y":2011.5,"y2":2014,"v":-1},{"x":1957.5,"x2":1960.5,"y":2008.5,"y2":2010.5,"v":-1},{"x":1950,"x2":1958.5,"y":2003,"y2":2006.5,"v":-1},{"x":1957.5,"x2":1959.5,"y":2003.5,"y2":2005.5,"v":-1},{"x":1950,"x2":1957,"y":2002.5,"y2":2003.5,"v":-1},{"x":1950,"x2":1953,"y":1992,"y2":2002.5,"v":-1},{"x":1955.5,"x2":1956.5,"y":2000.5,"y2":2002.5,"v":-1},{"x":1950,"x2":1957.5,"y":1991,"y2":2000.5,"v":-1},{"x":1957.5,"x2":1958.5,"y":1997.5,"y2":1998.5,"v":-1},{"x":1950,"x2":1959,"y":1995.5,"y2":1996.5,"v":-1},{"x":1950,"x2":1961.5,"y":1994.5,"y2":1995.5,"v":-1},{"x":1964.5,"x2":1966.5,"y":1994.5,"y2":1995.5,"v":-1},{"x":1950,"x2":1985,"y":1988.5,"y2":1994.5,"v":-1},{"x":1960.5,"x2":1961.5,"y":2003.5,"y2":2005.5,"v":-1},{"x":1964.5,"x2":1965.5,"y":2003.5,"y2":2004.5,"v":-1},{"x":1970.5,"x2":1973.5,"y":2003.5,"y2":2005.5,"v":-1},{"x":1971.5,"x2":1972.5,"y":2005.5,"y2":2007.5,"v":-1},{"x":1970.5,"x2":1973.5,"y":2009.5,"y2":2010.5,"v":-1},{"x":1971.5,"x2":1972.5,"y":2008.5,"y2":2009.5,"v":-1},{"x":1970.5,"x2":1973.5,"y":2013.5,"y2":2014,"v":-1},{"x":1983.5,"x2":1985,"y":2012.5,"y2":2014,"v":-1},{"x":1953.5,"x2":1955.5,"y":2000.5,"y2":2002.5,"v":-0.6},{"x":1956.5,"x2":1957.5,"y":2000.5,"y2":2002.5,"v":-0.6},{"x":1959.5,"x2":1960.5,"y":1990.5,"y2":1991.5,"v":-0.6},{"x":1961.5,"x2":1962.5,"y":1990.5,"y2":1991.5,"v":-0.6},{"x":1974.5,"x2":1976.5,"y":2011.5,"y2":2012.5,"v":-0.2},{"x":1978.5,"x2":1983.5,"y":2010.5,"y2":2012,"v":-0.2},{"x":1980.5,"x2":1982.5,"y":2012,"y2":2013,"v":-0.2},{"x":1975.5,"x2":1976.5,"y":2006.5,"y2":2008.5,"v":-0.2},{"x":1979.5,"x2":1980.5,"y":2008.5,"y2":2009.5,"v":-0.2},{"x":1978.5,"x2":1979,"y":2007.5,"y2":2008.5,"v":-0.2},{"x":1967.5,"x2":1969.5,"y":2000.5,"y2":2002.5,"v":-0.2},{"x":1968.5,"x2":1969.5,"y":1997.5,"y2":1999.5,"v":-0.2},{"x":1950,"x2":1953.5,"y":1992.5,"y2":1993.5,"v":-1.4},{"x":1954,"x2":1958.5,"y":1992.5,"y2":1993.5,"v":-1.4},{"x":1960.5,"x2":1961.5,"y":1992.5,"y2":1993.5,"v":-1.4},{"x":1950,"x2":1950.5,"y":1991.5,"y2":1992.5,"v":-1.4},{"x":1952.5,"x2":1953.5,"y":1991.5,"y2":1992.5,"v":-1.4},{"x":1955.5,"x2":1957.5,"y":1991.5,"y2":1992.5,"v":-1.4},{"x":1955.5,"x2":1956.5,"y":1988.5,"y2":1989.5,"v":-1.4},{"x":1950,"x2":1960,"y":1981.5,"y2":1988.5,"v":-1.4},{"x":1953,"x2":1954.5,"y":1985.5,"y2":1986.5,"v":-1},{"x":1950.5,"x2":1952.5,"y":1981.5,"y2":1982.5,"v":-1},{"x":1950,"x2":1952.5,"y":1979,"y2":1981.5,"v":-1}],
"j":[{"x":1950,"x2":1985,"y":1979,"y2":2014,"v":-0.5},{"x":1950,"x2":1985,"y":1999.5,"y2":2014,"v":0.5},{"x":1953.5,"x2":1954.5,"y":1999.5,"y2":2000.5,"v":-0.5},{"x":1956.5,"x2":1958.5,"y":1998.5,"y2":1999.5,"v":0.5},{"x":1960.5,"x2":1964.5,"y":1998.5,"y2":1999.5,"v":0.5},{"x":1965.5,"x2":1970.5,"y":1998.5,"y2":1999.5,"v":0.5},{"x":1964,"x2":1965.5,"y":1998.5,"y2":1999.5,"v":1.5},{"x":1964.5,"x2":1965.5,"y":1997.5,"y2":1998.5,"v":0.5},{"x":1953.5,"x2":1954.5,"y":2003.5,"y2":2004.5,"v":-0.5},{"x":1953.5,"x2":1954.5,"y":2001.5,"y2":2002.5,"v":-0.5},{"x":1950,"x2":1985,"y":2010.5,"y2":2014,"v":1.5},{"x":1950.5,"x2":1953.5,"y":2008.5,"y2":2010.5,"v":1.5},{"x":1954.5,"x2":1985,"y":2008.5,"y2":2010.5,"v":1.5},{"x":1950.5,"x2":1951.5,"y":2007.5,"y2":2008.5,"v":1.5},{"x":1955.5,"x2":1985,"y":2007.5,"y2":2008.5,"v":1.5},{"x":1956.5,"x2":1958.5,"y":2006.5,"y2":2007.5,"v":1.5},{"x":1960.5,"x2":1985,"y":2006.5,"y2":2007.5,"v":1.5},{"x":1961.5,"x2":1985,"y":2005.5,"y2":2006.5,"v":1.5},{"x":1962.5,"x2":1975.5,"y":2000,"y2":2005.5,"v":1.5},{"x":1962.5,"x2":1970.5,"y":1999.5,"y2":2000.5,"v":1.5},{"x":1972.5,"x2":1973.5,"y":2003.5,"y2":2004.5,"v":0.5},{"x":1961.5,"x2":1962.5,"y":2000.5,"y2":2001.5,"v":1.5},{"x":1956.5,"x2":1957.5,"y":2000.5,"y2":2001.5,"v":1.5},{"x":1964.5,"x2":1965.5,"y":2000.5,"y2":2001.5,"v":2.5},{"x":1968.5,"x2":1969.5,"y":2000.5,"y2":2001.5,"v":2.5},{"x":1970.5,"x2":1972,"y":2000.5,"y2":2001.5,"v":2.5},{"x":1971.5,"x2":1972.5,"y":2001.5,"y2":2003.5,"v":2.5},{"x":1971.5,"x2":1972.5,"y":2004.5,"y2":2006.5,"v":2.5},{"x":1968.5,"x2":1969.5,"y":2006.5,"y2":2007.5,"v":2.5},{"x":1970.5,"x2":1971.5,"y":2006.5,"y2":2007.5,"v":2.5},{"x":1974.5,"x2":1975.5,"y":2004.5,"y2":2007.5,"v":2.5},{"x":1972.5,"x2":1974.5,"y":2007.5,"y2":2010.5,"v":2.5},{"x":1962.5,"x2":1971.5,"y":2007.5,"y2":2010.5,"v":2.5},{"x":1955.5,"x2":1961,"y":2012.5,"y2":2014,"v":2.5},{"x":1956.5,"x2":1958.5,"y":2011.5,"y2":2012.5,"v":2.5},{"x":1960.5,"x2":1962.5,"y":2010.5,"y2":2012.5,"v":2.5},{"x":1962.5,"x2":1968.5,"y":2010.5,"y2":2011.5,"v":2.5},{"x":1969.5,"x2":1970.5,"y":2010.5,"y2":2011.5,"v":2.5},{"x":1964.5,"x2":1965.5,"y":2011.5,"y2":2012.5,"v":3.5},{"x":1965.5,"x2":1966.5,"y":2011.5,"y2":2012.5,"v":2.5},{"x":1961,"x2":1966,"y":2012.5,"y2":2014,"v":3.5},{"x":1966.5,"x2":1975,"y":2011.5,"y2":2014,"v":3.5},{"x":1966,"x2":1966.5,"y":2012.5,"y2":2014,"v":3.5},{"x":1968.5,"x2":1969.5,"y":2010.5,"y2":2011.5,"v":3.5},{"x":1970.5,"x2":1974.5,"y":2010.5,"y2":2011.5,"v":3.5},{"x":1971.5,"x2":1972.5,"y":2007.5,"y2":2010.5,"v":3.5},{"x":1974.5,"x2":1975.5,"y":2007.5,"y2":2010.5,"v":3.5},{"x":1975.5,"x2":1977,"y":2004.5,"y2":2006.5,"v":3.5},{"x":1971.5,"x2":1972.5,"y":2012.5,"y2":2014,"v":4.5},{"x":1974.5,"x2":1975.5,"y":2010.5,"y2":2012.5,"v":4.5},{"x":1975.5,"x2":1978.5,"y":2006.5,"y2":2010.5,"v":4.5},{"x":1975,"x2":1980,"y":2010.5,"y2":2014,"v":5.5},{"x":1978.5,"x2":1982,"y":2008,"y2":2010.5,"v":5.5},{"x":1978.5,"x2":1985,"y":2010.5,"y2":2014,"v":6.5},{"x":1984.5,"x2":1985,"y":2013.5,"y2":2014,"v":5.5},{"x":1953.5,"x2":1955.5,"y":1996.5,"y2":1997.5,"v":-1.5},{"x":1953.5,"x2":1954.5,"y":1997.5,"y2":1998.5,"v":-1.5},{"x":1958.5,"x2":1960.5,"y":1996.5,"y2":1997.5,"v":-1.5},{"x":1959.5,"x2":1960.5,"y":1997.5,"y2":1998.5,"v":-1.5},{"x":1950.5,"x2":1951.5,"y":1995.5,"y2":1996.5,"v":0.5},{"x":1956.5,"x2":1957.5,"y":1995.5,"y2":1996.5,"v":0.5},{"x":1962.5,"x2":1967.5,"y":1995.5,"y2":1996.5,"v":0.5},{"x":1950,"x2":1966,"y":1991.5,"y2":1995.5,"v":-1.5},{"x":1950.5,"x2":1951.5,"y":1991.5,"y2":1995.5,"v":-0.5},{"x":1956.5,"x2":1957.5,"y":1994.5,"y2":1995.5,"v":-0.5},{"x":1962.5,"x2":1965.5,"y":1994.5,"y2":1995.5,"v":-0.5},{"x":1965.5,"x2":1966.5,"y":1994.5,"y2":1995.5,"v":-1.5},{"x":1953.5,"x2":1954.5,"y":1991.5,"y2":1994.5,"v":-2.5},{"x":1959.5,"x2":1960.5,"y":1991.5,"y2":1994.5,"v":-2.5},{"x":1956.5,"x2":1957.5,"y":1991.5,"y2":1992.5,"v":-0.5},{"x":1962.5,"x2":1963.5,"y":1991.5,"y2":1992.5,"v":-0.5},{"x":1953.5,"x2":1954.5,"y":1988.5,"y2":1991.5,"v":-1.5},{"x":1954.5,"x2":1955.5,"y":1990.5,"y2":1991.5,"v":-1.5},{"x":1958.5,"x2":1961,"y":1990.5,"y2":1991.5,"v":-1.5},{"x":1959.5,"x2":1961,"y":1988.5,"y2":1990.5,"v":-1.5},{"x":1950.5,"x2":1951.5,"y":1988.5,"y2":1989.5,"v":0.5},{"x":1956.5,"x2":1957.5,"y":1988.5,"y2":1990.5,"v":0.5},{"x":1952.5,"x2":1959,"y":1987.5,"y2":1988.5,"v":-1.5},{"x":1951.5,"x2":1958.5,"y":1986.5,"y2":1987.5,"v":-1.5},{"x":1953.5,"x2":1955.5,"y":1986.5,"y2":1987.5,"v":-2.5},{"x":1950,"x2":1950.5,"y":1984.5,"y2":1988.5,"v":-1.5},{"x":1952.5,"x2":1957,"y":1984.5,"y2":1986.5,"v":-1.5},{"x":1953.5,"x2":1954.5,"y":1984.5,"y2":1986.5,"v":-2.5},{"x":1956.5,"x2":1957.5,"y":1985.5,"y2":1986.5,"v":-0.5},{"x":1951.5,"x2":1952.5,"y":1984.5,"y2":1985.5,"v":-1.5},{"x":1950,"x2":1955,"y":1982.5,"y2":1984.5,"v":-1.5},{"x":1952.5,"x2":1953.5,"y":1982.5,"y2":1984.5,"v":-2.5},{"x":1953.5,"x2":1954.5,"y":1982.5,"y2":1984.5,"v":-3.5},{"x":1954.5,"x2":1955.5,"y":1983.5,"y2":1984.5,"v":-2.5},{"x":1951.5,"x2":1952.5,"y":1982.5,"y2":1983.5,"v":-2.5},{"x":1950,"x2":1950.5,"y":1982.5,"y2":1983.5,"v":-2.5},{"x":1950,"x2":1953.5,"y":1981.5,"y2":1982.5,"v":-1.5},{"x":1950.5,"x2":1951.5,"y":1979,"y2":1981.5,"v":0.5}],
"k":[{"x":1950,"x2":1981.5,"y":1979,"y2":2010.5,"v":-0.5},{"x":1950,"x2":1975.5,"y":1990.5,"y2":2007.5,"v":-1.5},{"x":1953.5,"x2":1955.5,"y":2007.5,"y2":2008.5,"v":-1.5},{"x":1953.5,"x2":1954.5,"y":2008.5,"y2":2009.5,"v":-1.5},{"x":1958.5,"x2":1962.5,"y":2007.5,"y2":2008.5,"v":-1.5},{"x":1959.5,"x2":1960.5,"y":2008.5,"y2":2009.5,"v":-1.5},{"x":1965.5,"x2":1971.5,"y":2007.5,"y2":2009.5,"v":-1.5},{"x":1966.5,"x2":1970.5,"y":2009.5,"y2":2010.5,"v":-1.5},{"x":1972.5,"x2":1973.5,"y":2007.5,"y2":2010.5,"v":-1.5},{"x":1973.5,"x2":1975,"y":2007.5,"y2":2009,"v":-1.5},{"x":1956.5,"x2":1957.5,"y":2006.5,"y2":2007.5,"v":-0.5},{"x":1975.5,"x2":1978,"y":2004.5,"y2":2006.5,"v":-1.5},{"x":1975.5,"x2":1978.5,"y":2008.5,"y2":2010.5,"v":0.5},{"x":1978,"x2":1978.5,"y":2007.5,"y2":2008.5,"v":0.5},{"x":1978.5,"x2":1980.5,"y":2008.5,"y2":2010.5,"v":1.5},{"x":1978.5,"x2":1979.5,"y":2007.5,"y2":2008.5,"v":1.5},{"x":1980.5,"x2":1981.5,"y":2009.5,"y2":2010.5,"v":2.5},{"x":1966.5,"x2":1971.5,"y":2006.5,"y2":2007.5,"v":-2.5},{"x":1965.5,"x2":1966.5,"y":2000.5,"y2":2006.5,"v":-2.5},{"x":1966.5,"x2":1971.5,"y":2000.5,"y2":2006.5,"v":-2.5},{"x":1971.5,"x2":1972.5,"y":2000.5,"y2":2006.5,"v":-2.5},{"x":1972.5,"x2":1975,"y":2006.5,"y2":2007.5,"v":-2.5},{"x":1974.5,"x2":1975.5,"y":2004.5,"y2":2006.5,"v":-2.5},{"x":1959.5,"x2":1960.5,"y":2004.5,"y2":2006.5,"v":-2.5},{"x":1961.5,"x2":1962.5,"y":2004.5,"y2":2005.5,"v":-2.5},{"x":1953.5,"x2":1954.5,"y":2003.5,"y2":2004.5,"v":-2.5},{"x":1958.5,"x2":1966,"y":2001.5,"y2":2004.5,"v":-2.5},{"x":1967.5,"x2":1968.5,"y":2004.5,"y2":2005.5,"v":-3.5},{"x":1969.5,"x2":1970.5,"y":2004.5,"y2":2006.5,"v":-3.5},{"x":1970.5,"x2":1971.5,"y":2004.5,"y2":2005.5,"v":-3.5},{"x":1966.5,"x2":1971.5,"y":2001.5,"y2":2004.5,"v":-3.5},{"x":1972.5,"x2":1974.5,"y":2004.5,"y2":2006.5,"v":-3.5},{"x":1972.5,"x2":1974.5,"y":2002.5,"y2":2004.5,"v":-4.5},{"x":1972.5,"x2":1973.5,"y":2001.5,"y2":2002.5,"v":-4.5},{"x":1974.5,"x2":1975.5,"y":2003.5,"y2":2004.5,"v":-4.5},{"x":1959.5,"x2":1962.5,"y":1999.5,"y2":2000.5,"v":-2.5},{"x":1965.5,"x2":1966.5,"y":1999.5,"y2":2000.5,"v":-2.5},{"x":1966.5,"x2":1971.5,"y":1999.5,"y2":2000.5,"v":-3.5},{"x":1953.5,"x2":1955.5,"y":1998.5,"y2":1999.5,"v":-2.5},{"x":1958.5,"x2":1965.5,"y":1998.5,"y2":1999.5,"v":-2.5},{"x":1965.5,"x2":1966.5,"y":1998.5,"y2":1999.5,"v":-3.5},{"x":1966.5,"x2":1970.5,"y":1998.5,"y2":1999.5,"v":-4.5},{"x":1951.5,"x2":1958.5,"y":1996.5,"y2":1998.5,"v":-2.5},{"x":1950,"x2":1950.5,"y":1997.5,"y2":1998.5,"v":-2.5},{"x":1956.5,"x2":1957.5,"y":1996.5,"y2":1997.5,"v":-1.5},{"x":1958.5,"x2":1965.5,"y":1996.5,"y2":1998.5,"v":-3.5},{"x":1965.5,"x2":1966.5,"y":1996.5,"y2":1998.5,"v":-4.5},{"x":1966.5,"x2":1968.5,"y":1996.5,"y2":1998.5,"v":-5.5},{"x":1968.5,"x2":1969.5,"y":1997.5,"y2":1998.5,"v":-5.5},{"x":1956.5,"x2":1957.5,"y":1995.5,"y2":1996.5,"v":-0.5},{"x":1959.5,"x2":1962.5,"y":1995.5,"y2":1996.5,"v":-2.5},{"x":1965.5,"x2":1966.5,"y":1995.5,"y2":1996.5,"v":-2.5},{"x":1966.5,"x2":1967.5,"y":1995.5,"y2":1996.5,"v":-3.5},{"x":1953.5,"x2":1955.5,"y":1994.5,"y2":1995.5,"v":-2.5},{"x":1958.5,"x2":1965.5,"y":1994.5,"y2":1995.5,"v":-2.5},{"x":1965.5,"x2":1966.5,"y":1994.5,"y2":1995.5,"v":-3.5},{"x":1951.5,"x2":1956.5,"y":1993,"y2":1994.5,"v":-2.5},{"x":1957.5,"x2":1959,"y":1991.5,"y2":1994.5,"v":-2.5},{"x":1953.5,"x2":1956.5,"y":1991.5,"y2":1993,"v":-2.5},{"x":1959,"x2":1965,"y":1993.5,"y2":1994.5,"v":-3.5},{"x":1959,"x2":1963.5,"y":1992.5,"y2":1993.5,"v":-3.5},{"x":1959,"x2":1962.5,"y":1991.5,"y2":1992.5,"v":-3.5},{"x":1962.5,"x2":1963.5,"y":1991.5,"y2":1992.5,"v":-2.5},{"x":1959,"x2":1960,"y":1990.5,"y2":1991.5,"v":-2.5},{"x":1961.5,"x2":1962.5,"y":1990.5,"y2":1991.5,"v":-2.5},{"x":1956.5,"x2":1957.5,"y":1990.5,"y2":1991.5,"v":-0.5},{"x":1953.5,"x2":1955.5,"y":1989.5,"y2":1990.5,"v":-1.5},{"x":1958.5,"x2":1961.5,"y":1989.5,"y2":1990.5,"v":-1.5},{"x":1959.5,"x2":1960.5,"y":1988.5,"y2":1989.5,"v":-1.5},{"x":1956.5,"x2":1957.5,"y":1986.5,"y2":1989.5,"v":0.5},{"x":1953.5,"x2":1954.5,"y":1986.5,"y2":1988.5,"v":-1.5},{"x":1954.5,"x2":1955.5,"y":1986.5,"y2":1987.5,"v":-1.5},{"x":1950,"x2":1953.5,"y":1984.5,"y2":1986.5,"v":0.5},{"x":1955.5,"x2":1956.5,"y":1984.5,"y2":1986.5,"v":0.5},{"x":1956.5,"x2":1957.5,"y":1985.5,"y2":1986.5,"v":1.5},{"x":1950.5,"x2":1951.5,"y":1983.5,"y2":1984.5,"v":0.5},{"x":1953.5,"x2":1954.5,"y":1982.5,"y2":1984.5,"v":-1.5},{"x":1950,"x2":1953.5,"y":1981.5,"y2":1982.5,"v":0.5},{"x":1950,"x2":1953,"y":1979,"y2":1981.5,"v":1.5},{"x":1950.5,"x2":1951.5,"y":1980.5,"y2":1981.5,"v":2.5}],
"hb":[{"x":1976,"y":2013},{"x":1977,"y":2013},{"x":1978,"y":2013},{"x":1979,"y":2013},{"x":1980,"y":2013},{"x":1976,"y":2012},{"x":1977,"y":2012},{"x":1978,"y":2012},{"x":1979,"y":2012},{"x":1980,"y":2012},{"x":1976,"y":2011},{"x":1977,"y":2011}],
"hd":[{"x":1950,"y":1998},{"x":1951,"y":1998},{"x":1952,"y":1998},{"x":1953,"y":1998},{"x":1954,"y":1998},{"x":1950,"y":1997},{"x":1951,"y":1997},{"x":1952,"y":1997},{"x":1953,"y":1997},{"x":1954,"y":1997},{"x":1955,"y":1997},{"x":1958,"y":1997},{"x":1959,"y":1997},{"x":1960,"y":1997},{"x":1961,"y":1997},{"x":1950,"y":1996},{"x":1951,"y":1996},{"x":1952,"y":1996},{"x":1953,"y":1996},{"x":1954,"y":1996},{"x":1950,"y":1995},{"x":1951,"y":1995},{"x":1952,"y":1995},{"x":1953,"y":1995},{"x":1954,"y":1995},{"x":1950,"y":1994},{"x":1951,"y":1994},{"x":1952,"y":1994},{"x":1953,"y":1994},{"x":1954,"y":1994},{"x":1955,"y":1994},{"x":1959,"y":1994},{"x":1960,"y":1994},{"x":1961,"y":1994},{"x":1950,"y":1993},{"x":1951,"y":1993},{"x":1952,"y":1993},{"x":1953,"y":1993},{"x":1954,"y":1993},{"x":1955,"y":1993},{"x":1958,"y":1993},{"x":1959,"y":1993},{"x":1960,"y":1993},{"x":1961,"y":1993},{"x":1950,"y":1992},{"x":1951,"y":1992},{"x":1952,"y":1992},{"x":1953,"y":1992},{"x":1954,"y":1992},{"x":1959,"y":1992},{"x":1950,"y":1987.5},{"x":1951,"y":1987.5},{"x":1952,"y":1987.5},{"x":1953,"y":1987.5},{"x":1954,"y":1987.5},{"x":1953.5,"y":1983.4},{"x":1976,"y":2011.5},{"x":1977,"y":2011.5},{"x":1978,"y":2011.5},{"x":1979,"y":2011.5},{"x":1980,"y":2011.5},{"x":1981,"y":2011.5},{"x":1982,"y":2011.5},{"x":1977,"y":2010.5},{"x":1978,"y":2010.5},{"x":1979,"y":2010.5},{"x":1980,"y":2010.5},{"x":1981,"y":2010.5},{"x":1977,"y":2009.5},{"x":1978,"y":2009.5},{"x":1979,"y":2009.5},{"x":1980,"y":2009.5},{"x":1977,"y":2008.5},{"x":1978,"y":2008.5},{"x":1979,"y":2008.5}],
"hf":[{"x":1956,"y":2014},{"x":1957,"y":2014},{"x":1957,"y":2013},{"x":1962,"y":2014},{"x":1963,"y":2014},{"x":1964,"y":2014},{"x":1965,"y":2014},{"x":1963,"y":2013},{"x":1964,"y":2013},{"x":1971,"y":2014},{"x":1972,"y":2014},{"x":1973,"y":2014},{"x":1974,"y":2014},{"x":1975,"y":2014},{"x":1976,"y":2014},{"x":1977,"y":2014},{"x":1978,"y":2014},{"x":1979,"y":2014},{"x":1980,"y":2014},{"x":1981,"y":2014},{"x":1982,"y":2014},{"x":1983,"y":2014},{"x":1984,"y":2014},{"x":1971,"y":2013},{"x":1972,"y":2013},{"x":1973,"y":2013},{"x":1974,"y":2013},{"x":1975,"y":2013},{"x":1976,"y":2013},{"x":1977,"y":2013},{"x":1978,"y":2013},{"x":1979,"y":2013},{"x":1980,"y":2013},{"x":1981,"y":2013},{"x":1982,"y":2013},{"x":1983,"y":2013},{"x":1973,"y":2012},{"x":1974,"y":2012},{"x":1975,"y":2012},{"x":1976,"y":2012},{"x":1977,"y":2012},{"x":1978,"y":2012},{"x":1979,"y":2012},{"x":1980,"y":2012},{"x":1981,"y":2012},{"x":1982,"y":2012},{"x":1975,"y":2011},{"x":1976,"y":2011},{"x":1977,"y":2011},{"x":1978,"y":2011},{"x":1979,"y":2011},{"x":1980,"y":2011},{"x":1981,"y":2011},{"x":1975,"y":2010},{"x":1976,"y":2010},{"x":1977,"y":2010},{"x":1978,"y":2010},{"x":1979,"y":2010},{"x":1980,"y":2010},{"x":1975,"y":2009},{"x":1976,"y":2009},{"x":1977,"y":2009},{"x":1978,"y":2009},{"x":1979,"y":2009},{"x":1975,"y":2008},{"x":1976,"y":2008},{"x":1977,"y":2008},{"x":1978,"y":2008},{"x":1979,"y":2008},{"x":1975,"y":2007},{"x":1976,"y":2007},{"x":1977,"y":2007},{"x":1978,"y":2007},{"x":1976,"y":2006},{"x":1977,"y":2006}],
"hg":[{"x":1961,"y":1997.3},{"x":1966.5,"y":1997.3},{"x":1967.7,"y":1997.3}],
"hh":[{"x":1951,"y":2000},{"x":1952,"y":2000},{"x":1953,"y":2000},{"x":1954,"y":2000},{"x":1951,"y":1999},{"x":1952,"y":1999},{"x":1953,"y":1999},{"x":1954,"y":1999},{"x":1955,"y":1999},{"x":1956,"y":1999},{"x":1957,"y":1999},{"x":1958,"y":1999},{"x":1959,"y":1999},{"x":1960,"y":1999},{"x":1961,"y":1999},{"x":1962,"y":1999},{"x":1952,"y":1998},{"x":1953,"y":1998},{"x":1954,"y":1998},{"x":1955,"y":1998},{"x":1956,"y":1998},{"x":1957,"y":1998},{"x":1958,"y":1998},{"x":1959,"y":1998},{"x":1960,"y":1998},{"x":1961,"y":1998},{"x":1962,"y":1998},{"x":1952,"y":1997},{"x":1953,"y":1997},{"x":1954,"y":1997},{"x":1955,"y":1997},{"x":1956,"y":1997},{"x":1957,"y":1997},{"x":1958,"y":1997},{"x":1959,"y":1997},{"x":1960,"y":1997},{"x":1961,"y":1997},{"x":1962,"y":1997},{"x":1963,"y":1997},{"x":1964,"y":1997},{"x":1965,"y":1997},{"x":1966,"y":1997},{"x":1967,"y":1997},{"x":1968,"y":1997},{"x":1952,"y":1996},{"x":1953,"y":1996},{"x":1954,"y":1996},{"x":1955,"y":1996},{"x":1956,"y":1996},{"x":1957,"y":1996},{"x":1958,"y":1996},{"x":1959,"y":1996},{"x":1960,"y":1996},{"x":1952,"y":1995},{"x":1953,"y":1995},{"x":1954,"y":1995},{"x":1955,"y":1995},{"x":1956,"y":1995},{"x":1957,"y":1995},{"x":1958,"y":1995},{"x":1959,"y":1995},{"x":1960,"y":1995},{"x":1961,"y":1995},{"x":1962,"y":1995},{"x":1963,"y":1995},{"x":1952,"y":1994},{"x":1953,"y":1994},{"x":1954,"y":1994},{"x":1955,"y":1994},{"x":1956,"y":1994},{"x":1957,"y":1994},{"x":1958,"y":1994},{"x":1959,"y":1994},{"x":1960,"y":1994},{"x":1961,"y":1994},{"x":1962,"y":1994},{"x":1963,"y":1994},{"x":1953,"y":1993},{"x":1954,"y":1993},{"x":1955,"y":1993},{"x":1956,"y":1993},{"x":1957,"y":1993},{"x":1958,"y":1993},{"x":1959,"y":1993},{"x":1960,"y":1993},{"x":1961,"y":1993},{"x":1953,"y":1992},{"x":1954,"y":1992},{"x":1955,"y":1992},{"x":1956,"y":1992},{"x":1957,"y":1992},{"x":1958,"y":1992},{"x":1959,"y":1992},{"x":1960,"y":1992},{"x":1953,"y":1991},{"x":1954,"y":1991},{"x":1955,"y":1991},{"x":1956,"y":1991},{"x":1958,"y":1991},{"x":1959,"y":1991},{"x":1954,"y":1987}],
"hi":[{"x":1950,"y":2014},{"x":1951,"y":2014},{"x":1952,"y":2014},{"x":1953,"y":2014},{"x":1954,"y":2014},{"x":1955,"y":2014},{"x":1956,"y":2014},{"x":1957,"y":2014},{"x":1958,"y":2014},{"x":1959,"y":2014},{"x":1960,"y":2014},{"x":1961,"y":2014},{"x":1950,"y":2013},{"x":1951,"y":2013},{"x":1952,"y":2013},{"x":1953,"y":2013},{"x":1954,"y":2013},{"x":1955,"y":2013},{"x":1956,"y":2013},{"x":1957,"y":2013},{"x":1958,"y":2013},{"x":1950,"y":2012},{"x":1951,"y":2012},{"x":1952,"y":2012},{"x":1953,"y":2012},{"x":1954,"y":2012},{"x":1955,"y":2012},{"x":1956,"y":2012},{"x":1957,"y":2012},{"x":1950,"y":2011},{"x":1951,"y":2011},{"x":1952,"y":2011},{"x":1953,"y":2011},{"x":1954,"y":2011},{"x":1955,"y":2011},{"x":1956,"y":2011},{"x":1957,"y":2011},{"x":1958,"y":2011},{"x":1950,"y":2010},{"x":1951,"y":2010},{"x":1952,"y":2010},{"x":1953,"y":2010},{"x":1954,"y":2010},{"x":1955,"y":2010},{"x":1956,"y":2010},{"x":1957,"y":2010},{"x":1958,"y":2010},{"x":1959,"y":2010},{"x":1960,"y":2010},{"x":1961,"y":2010},{"x":1950,"y":2009},{"x":1951,"y":2009},{"x":1952,"y":2009},{"x":1953,"y":2009},{"x":1954,"y":2009},{"x":1955,"y":2009},{"x":1956,"y":2009},{"x":1957,"y":2009},{"x":1958,"y":2009},{"x":1959,"y":2009},{"x":1960,"y":2009},{"x":1950,"y":2008},{"x":1951,"y":2008},{"x":1952,"y":2008},{"x":1953,"y":2008},{"x":1954,"y":2008},{"x":1955,"y":2008},{"x":1956,"y":2008},{"x":1957,"y":2008},{"x":1950,"y":2007},{"x":1951,"y":2007},{"x":1952,"y":2007},{"x":1953,"y":2007},{"x":1954,"y":2007},{"x":1955,"y":2007},{"x":1956,"y":2007},{"x":1950,"y":2006},{"x":1951,"y":2006},{"x":1952,"y":2006},{"x":1953,"y":2006},{"x":1954,"y":2006},{"x":1955,"y":2006},{"x":1956,"y":2006},{"x":1950,"y":2005},{"x":1951,"y":2005},{"x":1952,"y":2005},{"x":1953,"y":2005},{"x":1954,"y":2005},{"x":1955,"y":2005},{"x":1956,"y":2005},{"x":1950,"y":2004},{"x":1951,"y":2004},{"x":1952,"y":2004},{"x":1953,"y":2004},{"x":1955,"y":2004},{"x":1956,"y":2004},{"x":1950,"y":2003},{"x":1951,"y":2003},{"x":1952,"y":2003},{"x":1950,"y":2002},{"x":1951,"y":2002},{"x":1952,"y":2002},{"x":1950,"y":2001},{"x":1951,"y":2001},{"x":1952,"y":2001},{"x":1953,"y":2001},{"x":1950,"y":2000},{"x":1951,"y":2000},{"x":1952,"y":2000},{"x":1950,"y":1999},{"x":1951,"y":1999},{"x":1952,"y":1999},{"x":1953,"y":1999},{"x":1956,"y":1999},{"x":1950,"y":1998},{"x":1951,"y":1998},{"x":1952,"y":1998},{"x":1953,"y":1998},{"x":1955,"y":1998},{"x":1956,"y":1998},{"x":1950,"y":1997},{"x":1951,"y":1997},{"x":1952,"y":1997},{"x":1953,"y":1997},{"x":1955,"y":1997},{"x":1956,"y":1997},{"x":1950,"y":1996},{"x":1951,"y":1996},{"x":1952,"y":1996},{"x":1953,"y":1996},{"x":1955,"y":1996},{"x":1956,"y":1996},{"x":1950,"y":1995},{"x":1951,"y":1995},{"x":1952,"y":1995},{"x":1955,"y":1995},{"x":1956,"y":1995},{"x":1950,"y":1994},{"x":1951,"y":1994},{"x":1952,"y":1994},{"x":1955,"y":1994},{"x":1956,"y":1994},{"x":1957,"y":1994},{"x":1950,"y":1993},{"x":1951,"y":1993},{"x":1952,"y":1993},{"x":1953,"y":1993},{"x":1955,"y":1993},{"x":1956,"y":1993},{"x":1957,"y":1993},{"x":1950,"y":1992},{"x":1951,"y":1992},{"x":1952,"y":1992},{"x":1953,"y":1992},{"x":1955,"y":1992},{"x":1956,"y":1992},{"x":1957,"y":1992},{"x":1958,"y":1992},{"x":1950,"y":1991},{"x":1951,"y":1991},{"x":1952,"y":1991},{"x":1956,"y":1991},{"x":1957,"y":1991},{"x":1950,"y":1990},{"x":1950,"y":1989},{"x":1950,"y":1988},{"x":1951,"y":1988},{"x":1950,"y":1987},{"x":1951,"y":1987},{"x":1950,"y":1983}],
"hj":[{"x":1957,"y":2014},{"x":1963,"y":2014},{"x":1964,"y":2014},{"x":1965,"y":2014},{"x":1966,"y":2014},{"x":1967,"y":2014},{"x":1968,"y":2014},{"x":1969,"y":2014},{"x":1964,"y":2013},{"x":1965,"y":2013},{"x":1972,"y":2014},{"x":1975,"y":2014},{"x":1976,"y":2014},{"x":1977,"y":2014},{"x":1978,"y":2014},{"x":1979,"y":2014},{"x":1980,"y":2014},{"x":1981,"y":2014},{"x":1982,"y":2014},{"x":1983,"y":2014},{"x":1984,"y":2014},{"x":1976,"y":2013},{"x":1977,"y":2013},{"x":1978,"y":2013},{"x":1979,"y":2013},{"x":1980,"y":2013},{"x":1981,"y":2013},{"x":1982,"y":2013},{"x":1983,"y":2013},{"x":1977,"y":2012},{"x":1978,"y":2012},{"x":1979,"y":2012},{"x":1980,"y":2012},{"x":1981,"y":2012},{"x":1982,"y":2012}],
"hk":[{"x":1967.6,"y":1997.5}]
},
"concat":[
{"title":"(a) CESM SLP","width":490,"height":490,"encoding":{"x":{"field":"x","type":"quantitative","title":"Start Year","scale":{"domain":[1950,1985],"nice":false,"zero":false},"axis":{"format":"d","tickCount":7}},"y":{"field":"y","type":"quantitative","title":"End Year","scale":{"domain":[1979,2014],"nice":false,"zero":false},"axis":{"format":"d","tickCount":7}}},"layer":[
{"data":{"name":"a"},"mark":{"type":"rect"},"encoding":{"x2":{"field":"x2"},"y2":{"field":"y2"},"color":{"field":"v","type":"quantitative","scale":{"type":"threshold","domain":[-12,-10,-8,-6,-4,-2,0,2,4,6,8,10,12],"range":["#0a1f4d","#08306b","#2171b5","#4292c6","#7bbdd6","#abdce6","#f0fbff","#fff0f5","#fdb9a6","#fc9272","#ef3b2c","#cb181d","#7a0a10","#630000"]},"legend":{"type":"gradient","title":"Pa decade⁻¹","values":[-12,-10,-8,-6,-4,-2,0,2,4,6,8,10,12],"labelExpr":"indexof([-12,-8,-4,0,4,8,12],datum.value)<0?'':replace(format(datum.value,'.2~f'),'−','-')"}}}},
{"data":{"name":"stair"},"mark":{"type":"area","opacity":1,"interpolate":"step-after","fill":"white","line":{"color":"#b5b5b5","strokeWidth":3}},"encoding":{"y2":{"datum":1979}}},
{"data":{"name":"frame"},"mark":{"type":"rect","fillOpacity":0,"stroke":"black","strokeWidth":5},"encoding":{"x2":{"field":"x2"},"y2":{"field":"y2"}}}]},
{"title":"(b) 20CR SLP","width":490,"height":490,"encoding":{"x":{"field":"x","type":"quantitative","title":"Start Year","scale":{"domain":[1950,1985],"nice":false,"zero":false},"axis":{"format":"d","tickCount":7}},"y":{"field":"y","type":"quantitative","title":"End Year","scale":{"domain":[1979,2014],"nice":false,"zero":false},"axis":{"format":"d","tickCount":7}}},"layer":[
{"data":{"name":"b"},"mark":{"type":"rect"},"encoding":{"x2":{"field":"x2"},"y2":{"field":"y2"},"color":{"field":"v","type":"quantitative","scale":{"type":"threshold","domain":[-30,-25,-20,-15,-10,-5,0,5,10,15,20,25,30],"range":["#0a1f4d","#08306b","#2171b5","#4292c6","#7bbdd6","#abdce6","#f0fbff","#fff0f5","#fdb9a6","#fc9272","#ef3b2c","#cb181d","#7a0a10","#630000"]},"legend":{"type":"gradient","title":"Pa decade⁻¹","values":[-30,-25,-20,-15,-10,-5,0,5,10,15,20,25,30],"labelExpr":"indexof([-30,-20,-10,0,10,20,30],datum.value)<0?'':replace(format(datum.value,'.2~f'),'−','-')"}}}},
{"data":{"name":"stair"},"mark":{"type":"area","opacity":1,"interpolate":"step-after","fill":"white","line":{"color":"#b5b5b5","strokeWidth":3}},"encoding":{"y2":{"datum":1979}}},
{"data":{"name":"hb"},"mark":{"type":"point","clip":true,"shape":"M-0.5,-0.5L0.5,0.5M-0.5,0.5L0.5,-0.5","size":784,"filled":false,"stroke":"black","strokeWidth":2.5,"opacity":1}},
{"data":{"name":"frame"},"mark":{"type":"rect","fillOpacity":0,"stroke":"black","strokeWidth":5},"encoding":{"x2":{"field":"x2"},"y2":{"field":"y2"}}}]},
{"title":"(c) ERA-20C SLP","width":490,"height":490,"encoding":{"x":{"field":"x","type":"quantitative","title":"Start Year","scale":{"domain":[1950,1985],"nice":false,"zero":false},"axis":{"format":"d","tickCount":7}},"y":{"field":"y","type":"quantitative","title":"End Year","scale":{"domain":[1979,2014],"nice":false,"zero":false},"axis":{"format":"d","tickCount":7}}},"layer":[
{"data":{"name":"c"},"mark":{"type":"rect"},"encoding":{"x2":{"field":"x2"},"y2":{"field":"y2"},"color":{"field":"v","type":"quantitative","scale":{"type":"threshold","domain":[-30,-25,-20,-15,-10,-5,0,5,10,15,20,25,30],"range":["#0a1f4d","#08306b","#2171b5","#4292c6","#7bbdd6","#abdce6","#f0fbff","#fff0f5","#fdb9a6","#fc9272","#ef3b2c","#cb181d","#7a0a10","#630000"]},"legend":{"type":"gradient","title":"Pa decade⁻¹","values":[-30,-25,-20,-15,-10,-5,0,5,10,15,20,25,30],"labelExpr":"indexof([-30,-20,-10,0,10,20,30],datum.value)<0?'':replace(format(datum.value,'.2~f'),'−','-')"}}}},
{"data":{"name":"stair"},"transform":[{"filter":"datum.x<=1981.5"}],"mark":{"type":"area","opacity":1,"interpolate":"step-after","fill":"white","line":{"color":"#b5b5b5","strokeWidth":3}},"encoding":{"y2":{"datum":1979}}},
{"data":{"name":"frame"},"mark":{"type":"rect","fillOpacity":0,"stroke":"black","strokeWidth":5},"encoding":{"x2":{"field":"x2"},"y2":{"field":"y2"}}}]},
{"title":"(d) HadSLP2 SLP","width":490,"height":490,"encoding":{"x":{"field":"x","type":"quantitative","title":"Start Year","scale":{"domain":[1950,1985],"nice":false,"zero":false},"axis":{"format":"d","tickCount":7}},"y":{"field":"y","type":"quantitative","title":"End Year","scale":{"domain":[1979,2014],"nice":false,"zero":false},"axis":{"format":"d","tickCount":7}}},"layer":[
{"data":{"name":"d"},"mark":{"type":"rect"},"encoding":{"x2":{"field":"x2"},"y2":{"field":"y2"},"color":{"field":"v","type":"quantitative","scale":{"type":"threshold","domain":[-30,-25,-20,-15,-10,-5,0,5,10,15,20,25,30],"range":["#0a1f4d","#08306b","#2171b5","#4292c6","#7bbdd6","#abdce6","#f0fbff","#fff0f5","#fdb9a6","#fc9272","#ef3b2c","#cb181d","#7a0a10","#630000"]},"legend":{"type":"gradient","title":"Pa decade⁻¹","values":[-30,-25,-20,-15,-10,-5,0,5,10,15,20,25,30],"labelExpr":"indexof([-30,-20,-10,0,10,20,30],datum.value)<0?'':replace(format(datum.value,'.2~f'),'−','-')"}}}},
{"data":{"name":"stair"},"transform":[{"filter":"datum.x<=1983.5"}],"mark":{"type":"area","opacity":1,"interpolate":"step-after","fill":"white","line":{"color":"#b5b5b5","strokeWidth":3}},"encoding":{"y2":{"datum":1979}}},
{"data":{"name":"hd"},"mark":{"type":"point","clip":true,"shape":"M-0.5,-0.5L0.5,0.5M-0.5,0.5L0.5,-0.5","size":784,"filled":false,"stroke":"black","strokeWidth":2.5,"opacity":1}},
{"data":{"name":"frame"},"mark":{"type":"rect","fillOpacity":0,"stroke":"black","strokeWidth":5},"encoding":{"x2":{"field":"x2"},"y2":{"field":"y2"}}}]},
{"title":"(e) CESM Surface Zonal Wind","width":490,"height":490,"encoding":{"x":{"field":"x","type":"quantitative","title":"Start Year","scale":{"domain":[1950,1985],"nice":false,"zero":false},"axis":{"format":"d","tickCount":7}},"y":{"field":"y","type":"quantitative","title":"End Year","scale":{"domain":[1979,2014],"nice":false,"zero":false},"axis":{"format":"d","tickCount":7}}},"layer":[
{"data":{"name":"e"},"mark":{"type":"rect"},"encoding":{"x2":{"field":"x2"},"y2":{"field":"y2"},"color":{"field":"v","type":"quantitative","scale":{"type":"threshold","domain":[-0.24,-0.2,-0.16,-0.12,-0.08,-0.04,0,0.04,0.08,0.12,0.16,0.2,0.24],"range":["#0a1f4d","#08306b","#2171b5","#4292c6","#7bbdd6","#abdce6","#f0fbff","#fff0f5","#fdb9a6","#fc9272","#ef3b2c","#cb181d","#7a0a10","#630000"]},"legend":{"type":"gradient","title":"m s⁻¹ decade⁻¹","values":[-0.24,-0.2,-0.16,-0.12,-0.08,-0.04,0,0.04,0.08,0.12,0.16,0.2,0.24],"labelExpr":"indexof([-0.24,-0.12,0,0.12,0.24],datum.value)<0?'':replace(format(datum.value,'.2~f'),'−','-')"}}}},
{"data":{"name":"stair"},"mark":{"type":"area","opacity":1,"interpolate":"step-after","fill":"white","line":{"color":"#b5b5b5","strokeWidth":3}},"encoding":{"y2":{"datum":1979}}},
{"data":{"name":"frame"},"mark":{"type":"rect","fillOpacity":0,"stroke":"black","strokeWidth":5},"encoding":{"x2":{"field":"x2"},"y2":{"field":"y2"}}}]},
{"title":"(f) 20CR Surface Zonal Wind","width":490,"height":490,"encoding":{"x":{"field":"x","type":"quantitative","title":"Start Year","scale":{"domain":[1950,1985],"nice":false,"zero":false},"axis":{"format":"d","tickCount":7}},"y":{"field":"y","type":"quantitative","title":"End Year","scale":{"domain":[1979,2014],"nice":false,"zero":false},"axis":{"format":"d","tickCount":7}}},"layer":[
{"data":{"name":"f"},"mark":{"type":"rect"},"encoding":{"x2":{"field":"x2"},"y2":{"field":"y2"},"color":{"field":"v","type":"quantitative","scale":{"type":"threshold","domain":[-0.6,-0.5,-0.4,-0.3,-0.2,-0.1,0,0.1,0.2,0.3,0.4,0.5,0.6],"range":["#0a1f4d","#08306b","#2171b5","#4292c6","#7bbdd6","#abdce6","#f0fbff","#fff0f5","#fdb9a6","#fc9272","#ef3b2c","#cb181d","#7a0a10","#630000"]},"legend":{"type":"gradient","title":"m s⁻¹ decade⁻¹","values":[-0.6,-0.5,-0.4,-0.3,-0.2,-0.1,0,0.1,0.2,0.3,0.4,0.5,0.6],"labelExpr":"indexof([-0.6,-0.4,-0.2,0,0.2,0.4,0.6],datum.value)<0?'':replace(format(datum.value,'.2~f'),'−','-')"}}}},
{"data":{"name":"stair"},"mark":{"type":"area","opacity":1,"interpolate":"step-after","fill":"white","line":{"color":"#b5b5b5","strokeWidth":3}},"encoding":{"y2":{"datum":1979}}},
{"data":{"name":"hf"},"mark":{"type":"point","clip":true,"shape":"M-0.5,-0.5L0.5,0.5M-0.5,0.5L0.5,-0.5","size":784,"filled":false,"stroke":"black","strokeWidth":2.5,"opacity":1}},
{"data":{"name":"frame"},"mark":{"type":"rect","fillOpacity":0,"stroke":"black","strokeWidth":5},"encoding":{"x2":{"field":"x2"},"y2":{"field":"y2"}}}]},
{"title":"(g) ERA-20C Surface Zonal Wind","width":490,"height":490,"encoding":{"x":{"field":"x","type":"quantitative","title":"Start Year","scale":{"domain":[1950,1985],"nice":false,"zero":false},"axis":{"format":"d","tickCount":7}},"y":{"field":"y","type":"quantitative","title":"End Year","scale":{"domain":[1979,2014],"nice":false,"zero":false},"axis":{"format":"d","tickCount":7}}},"layer":[
{"data":{"name":"g"},"mark":{"type":"rect"},"encoding":{"x2":{"field":"x2"},"y2":{"field":"y2"},"color":{"field":"v","type":"quantitative","scale":{"type":"threshold","domain":[-0.6,-0.5,-0.4,-0.3,-0.2,-0.1,0,0.1,0.2,0.3,0.4,0.5,0.6],"range":["#0a1f4d","#08306b","#2171b5","#4292c6","#7bbdd6","#abdce6","#f0fbff","#fff0f5","#fdb9a6","#fc9272","#ef3b2c","#cb181d","#7a0a10","#630000"]},"legend":{"type":"gradient","title":"m s⁻¹ decade⁻¹","values":[-0.6,-0.5,-0.4,-0.3,-0.2,-0.1,0,0.1,0.2,0.3,0.4,0.5,0.6],"labelExpr":"indexof([-0.6,-0.4,-0.2,0,0.2,0.4,0.6],datum.value)<0?'':replace(format(datum.value,'.2~f'),'−','-')"}}}},
{"data":{"name":"stair"},"transform":[{"filter":"datum.x<=1981.5"}],"mark":{"type":"area","opacity":1,"interpolate":"step-after","fill":"white","line":{"color":"#b5b5b5","strokeWidth":3}},"encoding":{"y2":{"datum":1979}}},
{"data":{"name":"hg"},"mark":{"type":"point","clip":true,"shape":"M-0.5,-0.5L0.5,0.5M-0.5,0.5L0.5,-0.5","size":784,"filled":false,"stroke":"black","strokeWidth":2.5,"opacity":1}},
{"data":{"name":"frame"},"mark":{"type":"rect","fillOpacity":0,"stroke":"black","strokeWidth":5},"encoding":{"x2":{"field":"x2"},"y2":{"field":"y2"}}}]},
{"title":"(h) WASWind Surface Zonal Wind","width":490,"height":490,"encoding":{"x":{"field":"x","type":"quantitative","title":"Start Year","scale":{"domain":[1950,1985],"nice":false,"zero":false},"axis":{"format":"d","tickCount":7}},"y":{"field":"y","type":"quantitative","title":"End Year","scale":{"domain":[1979,2014],"nice":false,"zero":false},"axis":{"format":"d","tickCount":7}}},"layer":[
{"data":{"name":"h"},"mark":{"type":"rect"},"encoding":{"x2":{"field":"x2"},"y2":{"field":"y2"},"color":{"field":"v","type":"quantitative","scale":{"type":"threshold","domain":[-0.6,-0.5,-0.4,-0.3,-0.2,-0.1,0,0.1,0.2,0.3,0.4,0.5,0.6],"range":["#0a1f4d","#08306b","#2171b5","#4292c6","#7bbdd6","#abdce6","#f0fbff","#fff0f5","#fdb9a6","#fc9272","#ef3b2c","#cb181d","#7a0a10","#630000"]},"legend":{"type":"gradient","title":"m s⁻¹ decade⁻¹","values":[-0.6,-0.5,-0.4,-0.3,-0.2,-0.1,0,0.1,0.2,0.3,0.4,0.5,0.6],"labelExpr":"indexof([-0.6,-0.4,-0.2,0,0.2,0.4,0.6],datum.value)<0?'':replace(format(datum.value,'.2~f'),'−','-')"}}}},
{"data":{"name":"stair"},"transform":[{"filter":"datum.x>=1954.5&&datum.x<=1980.5"}],"mark":{"type":"area","opacity":1,"interpolate":"step-after","fill":"white","line":{"color":"#b5b5b5","strokeWidth":3}},"encoding":{"y2":{"datum":1979}}},
{"data":{"name":"outlineh"},"mark":{"type":"line","color":"#b5b5b5","strokeWidth":3},"encoding":{"order":{"field":"i"}}},
{"data":{"name":"outlineh2"},"mark":{"type":"line","color":"#b5b5b5","strokeWidth":3},"encoding":{"order":{"field":"i"}}},
{"data":{"name":"hh"},"mark":{"type":"point","clip":true,"shape":"M-0.5,-0.5L0.5,0.5M-0.5,0.5L0.5,-0.5","size":784,"filled":false,"stroke":"black","strokeWidth":2.5,"opacity":1}},
{"data":{"name":"frame"},"mark":{"type":"rect","fillOpacity":0,"stroke":"black","strokeWidth":5},"encoding":{"x2":{"field":"x2"},"y2":{"field":"y2"}}}]},
{"title":"(i) CESM W₅₀₀","width":490,"height":490,"encoding":{"x":{"field":"x","type":"quantitative","title":"Start Year","scale":{"domain":[1950,1985],"nice":false,"zero":false},"axis":{"format":"d","tickCount":7}},"y":{"field":"y","type":"quantitative","title":"End Year","scale":{"domain":[1979,2014],"nice":false,"zero":false},"axis":{"format":"d","tickCount":7}}},"layer":[
{"data":{"name":"i"},"mark":{"type":"rect"},"encoding":{"x2":{"field":"x2"},"y2":{"field":"y2"},"color":{"field":"v","type":"quantitative","scale":{"type":"threshold","domain":[-2.4,-2,-1.6,-1.2,-0.8,-0.4,0,0.4,0.8,1.2,1.6,2,2.4],"range":["#0a1f4d","#08306b","#2171b5","#4292c6","#7bbdd6","#abdce6","#f0fbff","#fff0f5","#fdb9a6","#fc9272","#ef3b2c","#cb181d","#7a0a10","#630000"]},"legend":{"type":"gradient","title":"hPa day⁻¹ decade⁻¹","legendY":414,"titlePadding":0,"values":[-2.4,-2,-1.6,-1.2,-0.8,-0.4,0,0.4,0.8,1.2,1.6,2,2.4],"labelExpr":"indexof([-2.4,-1.6,-0.8,0,0.8,1.6,2.4],datum.value)<0?'':replace(format(datum.value,'.2~f'),'−','-')"}}}},
{"data":{"name":"stair"},"mark":{"type":"area","opacity":1,"interpolate":"step-after","fill":"white","line":{"color":"#b5b5b5","strokeWidth":3}},"encoding":{"y2":{"datum":1979}}},
{"data":{"name":"hi"},"mark":{"type":"point","clip":true,"shape":"M-0.5,-0.5L0.5,0.5M-0.5,0.5L0.5,-0.5","size":784,"filled":false,"stroke":"black","strokeWidth":2.5,"opacity":1}},
{"data":{"name":"frame"},"mark":{"type":"rect","fillOpacity":0,"stroke":"black","strokeWidth":5},"encoding":{"x2":{"field":"x2"},"y2":{"field":"y2"}}}]},
{"title":"(j) 20CR W₅₀₀","width":490,"height":490,"encoding":{"x":{"field":"x","type":"quantitative","title":"Start Year","scale":{"domain":[1950,1985],"nice":false,"zero":false},"axis":{"format":"d","tickCount":7}},"y":{"field":"y","type":"quantitative","title":"End Year","scale":{"domain":[1979,2014],"nice":false,"zero":false},"axis":{"format":"d","tickCount":7}}},"layer":[
{"data":{"name":"j"},"mark":{"type":"rect"},"encoding":{"x2":{"field":"x2"},"y2":{"field":"y2"},"color":{"field":"v","type":"quantitative","scale":{"type":"threshold","domain":[-6,-5,-4,-3,-2,-1,0,1,2,3,4,5,6],"range":["#0a1f4d","#08306b","#2171b5","#4292c6","#7bbdd6","#abdce6","#f0fbff","#fff0f5","#fdb9a6","#fc9272","#ef3b2c","#cb181d","#7a0a10","#630000"]},"legend":{"type":"gradient","title":"hPa day⁻¹ decade⁻¹","legendY":414,"titlePadding":0,"values":[-6,-5,-4,-3,-2,-1,0,1,2,3,4,5,6],"labelExpr":"indexof([-6,-4,-2,0,2,4,6],datum.value)<0?'':replace(format(datum.value,'.2~f'),'−','-')"}}}},
{"data":{"name":"stair"},"mark":{"type":"area","opacity":1,"interpolate":"step-after","fill":"white","line":{"color":"#b5b5b5","strokeWidth":3}},"encoding":{"y2":{"datum":1979}}},
{"data":{"name":"hj"},"mark":{"type":"point","clip":true,"shape":"M-0.5,-0.5L0.5,0.5M-0.5,0.5L0.5,-0.5","size":784,"filled":false,"stroke":"black","strokeWidth":2.5,"opacity":1}},
{"data":{"name":"frame"},"mark":{"type":"rect","fillOpacity":0,"stroke":"black","strokeWidth":5},"encoding":{"x2":{"field":"x2"},"y2":{"field":"y2"}}}]},
{"title":"(k) ERA-20C W₅₀₀","width":490,"height":490,"encoding":{"x":{"field":"x","type":"quantitative","title":"Start Year","scale":{"domain":[1950,1985],"nice":false,"zero":false},"axis":{"format":"d","tickCount":7}},"y":{"field":"y","type":"quantitative","title":"End Year","scale":{"domain":[1979,2014],"nice":false,"zero":false},"axis":{"format":"d","tickCount":7}}},"layer":[
{"data":{"name":"k"},"mark":{"type":"rect"},"encoding":{"x2":{"field":"x2"},"y2":{"field":"y2"},"color":{"field":"v","type":"quantitative","scale":{"type":"threshold","domain":[-6,-5,-4,-3,-2,-1,0,1,2,3,4,5,6],"range":["#0a1f4d","#08306b","#2171b5","#4292c6","#7bbdd6","#abdce6","#f0fbff","#fff0f5","#fdb9a6","#fc9272","#ef3b2c","#cb181d","#7a0a10","#630000"]},"legend":{"type":"gradient","title":"hPa day⁻¹ decade⁻¹","legendY":414,"titlePadding":0,"values":[-6,-5,-4,-3,-2,-1,0,1,2,3,4,5,6],"labelExpr":"indexof([-6,-4,-2,0,2,4,6],datum.value)<0?'':replace(format(datum.value,'.2~f'),'−','-')"}}}},
{"data":{"name":"stair"},"transform":[{"filter":"datum.x<=1981.5"}],"mark":{"type":"area","opacity":1,"interpolate":"step-after","fill":"white","line":{"color":"#b5b5b5","strokeWidth":3}},"encoding":{"y2":{"datum":1979}}},
{"data":{"name":"hk"},"mark":{"type":"point","clip":true,"shape":"M-0.5,-0.5L0.5,0.5M-0.5,0.5L0.5,-0.5","size":784,"filled":false,"stroke":"black","strokeWidth":2.5,"opacity":1}},
{"data":{"name":"frame"},"mark":{"type":"rect","fillOpacity":0,"stroke":"black","strokeWidth":5},"encoding":{"x2":{"field":"x2"},"y2":{"field":"y2"}}}]}
],
"resolve":{"scale":{"color":"independent"}}}
